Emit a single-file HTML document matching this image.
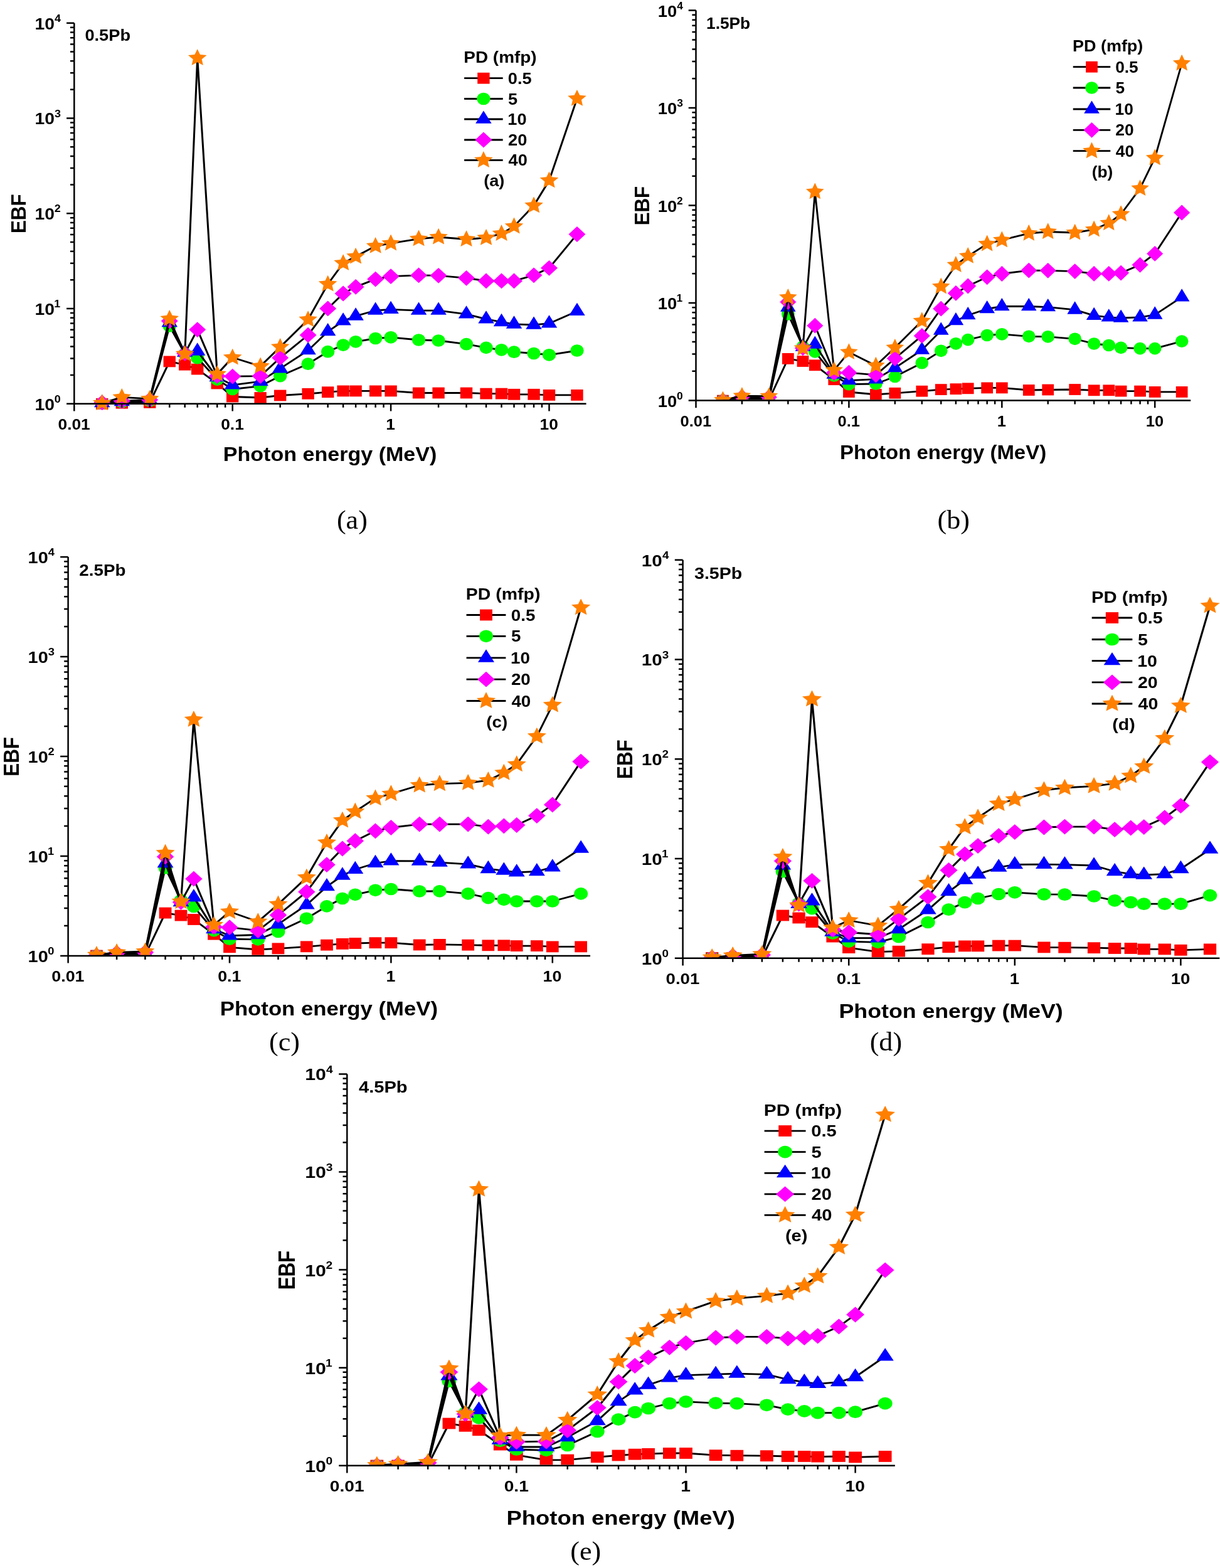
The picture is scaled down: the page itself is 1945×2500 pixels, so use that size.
<!DOCTYPE html>
<html><head><meta charset="utf-8"><title>EBF vs Photon energy</title>
<style>html,body{margin:0;padding:0;background:#fff;}svg{display:block;}</style></head>
<body><svg xmlns="http://www.w3.org/2000/svg" width="1945" height="2500" viewBox="0 0 1945 2500">
<rect width="1945" height="2500" fill="#fff"/>
<g id="chart-a">
<g>
<polyline transform="scale(1.0887,1)" points="149.49,643.8 178.46,642.7 219.28,641.9 248.25,576.4 270.72,581.7 289.08,588.6 318.04,611.5 340.51,632.5 381.34,634 410.3,630.5 451.13,627.8 480.09,625.2 502.56,623.4 520.92,623.4 549.89,623.4 572.35,623.4 613.18,626.5 642.15,626.5 682.97,626.5 711.94,627.6 734.41,627.6 752.76,628.8 781.73,628.8 804.2,629.9 845.02,629.9" fill="none" stroke="#000" stroke-width="2.8" stroke-linejoin="round"/>
<rect x="153.06" y="634.9" width="19.38" height="17.8" fill="#ff0000"/>
<rect x="184.59" y="633.8" width="19.38" height="17.8" fill="#ff0000"/>
<rect x="229.04" y="633" width="19.38" height="17.8" fill="#ff0000"/>
<rect x="260.57" y="567.5" width="19.38" height="17.8" fill="#ff0000"/>
<rect x="285.03" y="572.8" width="19.38" height="17.8" fill="#ff0000"/>
<rect x="305.02" y="579.7" width="19.38" height="17.8" fill="#ff0000"/>
<rect x="336.55" y="602.6" width="19.38" height="17.8" fill="#ff0000"/>
<rect x="361.01" y="623.6" width="19.38" height="17.8" fill="#ff0000"/>
<rect x="405.46" y="625.1" width="19.38" height="17.8" fill="#ff0000"/>
<rect x="436.99" y="621.6" width="19.38" height="17.8" fill="#ff0000"/>
<rect x="481.44" y="618.9" width="19.38" height="17.8" fill="#ff0000"/>
<rect x="512.97" y="616.3" width="19.38" height="17.8" fill="#ff0000"/>
<rect x="537.43" y="614.5" width="19.38" height="17.8" fill="#ff0000"/>
<rect x="557.42" y="614.5" width="19.38" height="17.8" fill="#ff0000"/>
<rect x="588.95" y="614.5" width="19.38" height="17.8" fill="#ff0000"/>
<rect x="613.41" y="614.5" width="19.38" height="17.8" fill="#ff0000"/>
<rect x="657.86" y="617.6" width="19.38" height="17.8" fill="#ff0000"/>
<rect x="689.39" y="617.6" width="19.38" height="17.8" fill="#ff0000"/>
<rect x="733.84" y="617.6" width="19.38" height="17.8" fill="#ff0000"/>
<rect x="765.37" y="618.7" width="19.38" height="17.8" fill="#ff0000"/>
<rect x="789.83" y="618.7" width="19.38" height="17.8" fill="#ff0000"/>
<rect x="809.82" y="619.9" width="19.38" height="17.8" fill="#ff0000"/>
<rect x="841.35" y="619.9" width="19.38" height="17.8" fill="#ff0000"/>
<rect x="865.81" y="621" width="19.38" height="17.8" fill="#ff0000"/>
<rect x="910.26" y="621" width="19.38" height="17.8" fill="#ff0000"/>
<polyline transform="scale(1.0887,1)" points="149.49,643 178.46,641 219.28,639 248.25,519.9 270.72,564 289.08,570.7 318.04,605.1 340.51,620.5 381.34,615.6 410.3,599.6 451.13,580.2 480.09,560.7 502.56,550.1 520.92,544.8 549.89,539.5 572.35,537.8 613.18,542 642.15,543 682.97,548.7 711.94,554.4 734.41,557.8 752.76,561.2 781.73,563.5 804.2,565.8 845.02,559" fill="none" stroke="#000" stroke-width="2.8" stroke-linejoin="round"/>
<ellipse cx="162.75" cy="643" rx="10.72" ry="9.85" fill="#00ff00"/>
<ellipse cx="194.28" cy="641" rx="10.72" ry="9.85" fill="#00ff00"/>
<ellipse cx="238.73" cy="639" rx="10.72" ry="9.85" fill="#00ff00"/>
<ellipse cx="270.26" cy="519.9" rx="10.72" ry="9.85" fill="#00ff00"/>
<ellipse cx="294.72" cy="564" rx="10.72" ry="9.85" fill="#00ff00"/>
<ellipse cx="314.71" cy="570.7" rx="10.72" ry="9.85" fill="#00ff00"/>
<ellipse cx="346.24" cy="605.1" rx="10.72" ry="9.85" fill="#00ff00"/>
<ellipse cx="370.7" cy="620.5" rx="10.72" ry="9.85" fill="#00ff00"/>
<ellipse cx="415.15" cy="615.6" rx="10.72" ry="9.85" fill="#00ff00"/>
<ellipse cx="446.68" cy="599.6" rx="10.72" ry="9.85" fill="#00ff00"/>
<ellipse cx="491.13" cy="580.2" rx="10.72" ry="9.85" fill="#00ff00"/>
<ellipse cx="522.66" cy="560.7" rx="10.72" ry="9.85" fill="#00ff00"/>
<ellipse cx="547.12" cy="550.1" rx="10.72" ry="9.85" fill="#00ff00"/>
<ellipse cx="567.11" cy="544.8" rx="10.72" ry="9.85" fill="#00ff00"/>
<ellipse cx="598.64" cy="539.5" rx="10.72" ry="9.85" fill="#00ff00"/>
<ellipse cx="623.1" cy="537.8" rx="10.72" ry="9.85" fill="#00ff00"/>
<ellipse cx="667.55" cy="542" rx="10.72" ry="9.85" fill="#00ff00"/>
<ellipse cx="699.08" cy="543" rx="10.72" ry="9.85" fill="#00ff00"/>
<ellipse cx="743.53" cy="548.7" rx="10.72" ry="9.85" fill="#00ff00"/>
<ellipse cx="775.06" cy="554.4" rx="10.72" ry="9.85" fill="#00ff00"/>
<ellipse cx="799.52" cy="557.8" rx="10.72" ry="9.85" fill="#00ff00"/>
<ellipse cx="819.51" cy="561.2" rx="10.72" ry="9.85" fill="#00ff00"/>
<ellipse cx="851.04" cy="563.5" rx="10.72" ry="9.85" fill="#00ff00"/>
<ellipse cx="875.5" cy="565.8" rx="10.72" ry="9.85" fill="#00ff00"/>
<ellipse cx="919.95" cy="559" rx="10.72" ry="9.85" fill="#00ff00"/>
<polyline transform="scale(1.0887,1)" points="149.49,642.6 178.46,640.4 219.28,637.5 248.25,514.4 270.72,561.9 289.08,559.9 318.04,601.6 340.51,613.8 381.34,608.2 410.3,587.7 451.13,558.6 480.09,528.6 502.56,511.8 520.92,503.9 549.89,495 572.35,493.3 613.18,495.1 642.15,495.1 682.97,500.8 711.94,508.8 734.41,513.4 752.76,516.9 781.73,518 804.2,515.7 845.02,496.3" fill="none" stroke="#000" stroke-width="2.8" stroke-linejoin="round"/>
<polygon points="162.75,629.07 175.48,649.37 150.01,649.37" fill="#0000ff"/>
<polygon points="194.28,626.87 207.02,647.17 181.54,647.17" fill="#0000ff"/>
<polygon points="238.73,623.97 251.46,644.27 225.99,644.27" fill="#0000ff"/>
<polygon points="270.26,500.87 283,521.17 257.52,521.17" fill="#0000ff"/>
<polygon points="294.72,548.37 307.46,568.67 281.98,568.67" fill="#0000ff"/>
<polygon points="314.71,546.37 327.44,566.67 301.97,566.67" fill="#0000ff"/>
<polygon points="346.24,588.07 358.98,608.37 333.5,608.37" fill="#0000ff"/>
<polygon points="370.7,600.27 383.44,620.57 357.96,620.57" fill="#0000ff"/>
<polygon points="415.15,594.67 427.88,614.97 402.41,614.97" fill="#0000ff"/>
<polygon points="446.68,574.17 459.42,594.47 433.94,594.47" fill="#0000ff"/>
<polygon points="491.13,545.07 503.86,565.37 478.39,565.37" fill="#0000ff"/>
<polygon points="522.66,515.07 535.4,535.37 509.92,535.37" fill="#0000ff"/>
<polygon points="547.12,498.27 559.86,518.57 534.38,518.57" fill="#0000ff"/>
<polygon points="567.11,490.37 579.84,510.67 554.37,510.67" fill="#0000ff"/>
<polygon points="598.64,481.47 611.38,501.77 585.9,501.77" fill="#0000ff"/>
<polygon points="623.1,479.77 635.84,500.07 610.36,500.07" fill="#0000ff"/>
<polygon points="667.55,481.57 680.28,501.87 654.81,501.87" fill="#0000ff"/>
<polygon points="699.08,481.57 711.82,501.87 686.34,501.87" fill="#0000ff"/>
<polygon points="743.53,487.27 756.26,507.57 730.79,507.57" fill="#0000ff"/>
<polygon points="775.06,495.27 787.8,515.57 762.32,515.57" fill="#0000ff"/>
<polygon points="799.52,499.87 812.26,520.17 786.78,520.17" fill="#0000ff"/>
<polygon points="819.51,503.37 832.24,523.67 806.77,523.67" fill="#0000ff"/>
<polygon points="851.04,504.47 863.78,524.77 838.3,524.77" fill="#0000ff"/>
<polygon points="875.5,502.17 888.24,522.47 862.76,522.47" fill="#0000ff"/>
<polygon points="919.95,482.77 932.68,503.07 907.21,503.07" fill="#0000ff"/>
<polyline transform="scale(1.0887,1)" points="149.49,641.9 178.46,639.3 219.28,637.5 248.25,511.8 270.72,563.4 289.08,525.6 318.04,599.6 340.51,600.1 381.34,599.6 410.3,570.4 451.13,534.2 480.09,491.9 502.56,468 520.92,457.4 549.89,445.1 572.35,440.7 613.18,438.9 642.15,439.3 682.97,443.3 711.94,447.9 734.41,447.9 752.76,447.9 781.73,438.8 804.2,427.3 845.02,373.5" fill="none" stroke="#000" stroke-width="2.8" stroke-linejoin="round"/>
<polygon points="162.75,629.5 176.24,641.9 162.75,654.3 149.25,641.9" fill="#ff00ff"/>
<polygon points="194.28,626.9 207.78,639.3 194.28,651.7 180.78,639.3" fill="#ff00ff"/>
<polygon points="238.73,625.1 252.22,637.5 238.73,649.9 225.23,637.5" fill="#ff00ff"/>
<polygon points="270.26,499.4 283.76,511.8 270.26,524.2 256.76,511.8" fill="#ff00ff"/>
<polygon points="294.72,551 308.22,563.4 294.72,575.8 281.22,563.4" fill="#ff00ff"/>
<polygon points="314.71,513.2 328.2,525.6 314.71,538 301.21,525.6" fill="#ff00ff"/>
<polygon points="346.24,587.2 359.74,599.6 346.24,612 332.74,599.6" fill="#ff00ff"/>
<polygon points="370.7,587.7 384.2,600.1 370.7,612.5 357.2,600.1" fill="#ff00ff"/>
<polygon points="415.15,587.2 428.64,599.6 415.15,612 401.65,599.6" fill="#ff00ff"/>
<polygon points="446.68,558 460.18,570.4 446.68,582.8 433.18,570.4" fill="#ff00ff"/>
<polygon points="491.13,521.8 504.62,534.2 491.13,546.6 477.63,534.2" fill="#ff00ff"/>
<polygon points="522.66,479.5 536.16,491.9 522.66,504.3 509.16,491.9" fill="#ff00ff"/>
<polygon points="547.12,455.6 560.62,468 547.12,480.4 533.62,468" fill="#ff00ff"/>
<polygon points="567.11,445 580.6,457.4 567.11,469.8 553.61,457.4" fill="#ff00ff"/>
<polygon points="598.64,432.7 612.14,445.1 598.64,457.5 585.14,445.1" fill="#ff00ff"/>
<polygon points="623.1,428.3 636.6,440.7 623.1,453.1 609.6,440.7" fill="#ff00ff"/>
<polygon points="667.55,426.5 681.04,438.9 667.55,451.3 654.05,438.9" fill="#ff00ff"/>
<polygon points="699.08,426.9 712.58,439.3 699.08,451.7 685.58,439.3" fill="#ff00ff"/>
<polygon points="743.53,430.9 757.02,443.3 743.53,455.7 730.03,443.3" fill="#ff00ff"/>
<polygon points="775.06,435.5 788.56,447.9 775.06,460.3 761.56,447.9" fill="#ff00ff"/>
<polygon points="799.52,435.5 813.02,447.9 799.52,460.3 786.02,447.9" fill="#ff00ff"/>
<polygon points="819.51,435.5 833,447.9 819.51,460.3 806.01,447.9" fill="#ff00ff"/>
<polygon points="851.04,426.4 864.54,438.8 851.04,451.2 837.54,438.8" fill="#ff00ff"/>
<polygon points="875.5,414.9 889,427.3 875.5,439.7 862,427.3" fill="#ff00ff"/>
<polygon points="919.95,361.1 933.44,373.5 919.95,385.9 906.45,373.5" fill="#ff00ff"/>
<polyline transform="scale(1.0887,1)" points="149.49,642.6 178.46,633.3 219.28,635.9 248.25,508.3 270.72,564.3 289.08,92.5 318.04,596.5 340.51,570 381.34,583.8 410.3,553.2 451.13,509.5 480.09,453 502.56,419.5 520.92,409 549.89,392.3 572.35,387.9 613.18,380.8 642.15,378 682.97,381.5 711.94,379.2 734.41,372.4 752.76,360.9 781.73,327.7 804.2,287.7 845.02,157.2" fill="none" stroke="#000" stroke-width="2.8" stroke-linejoin="round"/>
<polygon points="162.75,628.3 167.05,637.16 177.55,638.18 169.7,644.68 171.9,654.17 162.75,649.32 153.59,654.17 155.79,644.68 147.94,638.18 158.44,637.16" fill="#ff8000"/>
<polygon points="194.28,619 198.58,627.86 209.09,628.88 201.24,635.38 203.43,644.87 194.28,640.02 185.13,644.87 187.32,635.38 179.47,628.88 189.98,627.86" fill="#ff8000"/>
<polygon points="238.73,621.6 243.03,630.46 253.53,631.48 245.68,637.98 247.88,647.47 238.73,642.62 229.57,647.47 231.77,637.98 223.92,631.48 234.42,630.46" fill="#ff8000"/>
<polygon points="270.26,494 274.56,502.86 285.07,503.88 277.22,510.38 279.41,519.87 270.26,515.02 261.11,519.87 263.3,510.38 255.45,503.88 265.96,502.86" fill="#ff8000"/>
<polygon points="294.72,550 299.02,558.86 309.53,559.88 301.68,566.38 303.87,575.87 294.72,571.02 285.57,575.87 287.76,566.38 279.91,559.88 290.42,558.86" fill="#ff8000"/>
<polygon points="314.71,78.2 319.01,87.06 329.51,88.08 321.66,94.58 323.86,104.07 314.71,99.22 305.55,104.07 307.75,94.58 299.9,88.08 310.4,87.06" fill="#ff8000"/>
<polygon points="346.24,582.2 350.54,591.06 361.05,592.08 353.2,598.58 355.39,608.07 346.24,603.22 337.09,608.07 339.28,598.58 331.43,592.08 341.94,591.06" fill="#ff8000"/>
<polygon points="370.7,555.7 375,564.56 385.51,565.58 377.66,572.08 379.85,581.57 370.7,576.72 361.55,581.57 363.74,572.08 355.89,565.58 366.4,564.56" fill="#ff8000"/>
<polygon points="415.15,569.5 419.45,578.36 429.95,579.38 422.1,585.88 424.3,595.37 415.15,590.52 405.99,595.37 408.19,585.88 400.34,579.38 410.84,578.36" fill="#ff8000"/>
<polygon points="446.68,538.9 450.98,547.76 461.49,548.78 453.64,555.28 455.83,564.77 446.68,559.92 437.53,564.77 439.72,555.28 431.87,548.78 442.38,547.76" fill="#ff8000"/>
<polygon points="491.13,495.2 495.43,504.06 505.93,505.08 498.08,511.58 500.28,521.07 491.13,516.22 481.97,521.07 484.17,511.58 476.32,505.08 486.82,504.06" fill="#ff8000"/>
<polygon points="522.66,438.7 526.96,447.56 537.47,448.58 529.62,455.08 531.81,464.57 522.66,459.72 513.51,464.57 515.7,455.08 507.85,448.58 518.36,447.56" fill="#ff8000"/>
<polygon points="547.12,405.2 551.42,414.06 561.93,415.08 554.08,421.58 556.27,431.07 547.12,426.22 537.97,431.07 540.16,421.58 532.31,415.08 542.82,414.06" fill="#ff8000"/>
<polygon points="567.11,394.7 571.41,403.56 581.91,404.58 574.06,411.08 576.26,420.57 567.11,415.72 557.95,420.57 560.15,411.08 552.3,404.58 562.8,403.56" fill="#ff8000"/>
<polygon points="598.64,378 602.94,386.86 613.45,387.88 605.6,394.38 607.79,403.87 598.64,399.02 589.49,403.87 591.68,394.38 583.83,387.88 594.34,386.86" fill="#ff8000"/>
<polygon points="623.1,373.6 627.4,382.46 637.91,383.48 630.06,389.98 632.25,399.47 623.1,394.62 613.95,399.47 616.14,389.98 608.29,383.48 618.8,382.46" fill="#ff8000"/>
<polygon points="667.55,366.5 671.85,375.36 682.35,376.38 674.5,382.88 676.7,392.37 667.55,387.52 658.39,392.37 660.59,382.88 652.74,376.38 663.24,375.36" fill="#ff8000"/>
<polygon points="699.08,363.7 703.38,372.56 713.89,373.58 706.04,380.08 708.23,389.57 699.08,384.72 689.93,389.57 692.12,380.08 684.27,373.58 694.78,372.56" fill="#ff8000"/>
<polygon points="743.53,367.2 747.83,376.06 758.33,377.08 750.48,383.58 752.68,393.07 743.53,388.22 734.37,393.07 736.57,383.58 728.72,377.08 739.22,376.06" fill="#ff8000"/>
<polygon points="775.06,364.9 779.36,373.76 789.87,374.78 782.02,381.28 784.21,390.77 775.06,385.92 765.91,390.77 768.1,381.28 760.25,374.78 770.76,373.76" fill="#ff8000"/>
<polygon points="799.52,358.1 803.82,366.96 814.33,367.98 806.48,374.48 808.67,383.97 799.52,379.12 790.37,383.97 792.56,374.48 784.71,367.98 795.22,366.96" fill="#ff8000"/>
<polygon points="819.51,346.6 823.81,355.46 834.31,356.48 826.46,362.98 828.66,372.47 819.51,367.62 810.35,372.47 812.55,362.98 804.7,356.48 815.2,355.46" fill="#ff8000"/>
<polygon points="851.04,313.4 855.34,322.26 865.85,323.28 858,329.78 860.19,339.27 851.04,334.42 841.89,339.27 844.08,329.78 836.23,323.28 846.74,322.26" fill="#ff8000"/>
<polygon points="875.5,273.4 879.8,282.26 890.31,283.28 882.46,289.78 884.65,299.27 875.5,294.42 866.35,299.27 868.54,289.78 860.69,283.28 871.2,282.26" fill="#ff8000"/>
<polygon points="919.95,142.9 924.25,151.76 934.75,152.78 926.9,159.28 929.1,168.77 919.95,163.92 910.79,168.77 912.99,159.28 905.14,152.78 915.64,151.76" fill="#ff8000"/>
</g>
<path d="M118.3,36.8V643.8M106.09,643.8H934.56M106.09,643.8H118.3M111.99,598.12H118.3M111.99,571.4H118.3M111.99,552.44H118.3M111.99,537.73H118.3M111.99,525.72H118.3M111.99,515.56H118.3M111.99,506.76H118.3M111.99,498.99H118.3M106.09,492.05H118.3M111.99,446.37H118.3M111.99,419.65H118.3M111.99,400.69H118.3M111.99,385.98H118.3M111.99,373.97H118.3M111.99,363.81H118.3M111.99,355.01H118.3M111.99,347.24H118.3M106.09,340.3H118.3M111.99,294.62H118.3M111.99,267.9H118.3M111.99,248.94H118.3M111.99,234.23H118.3M111.99,222.22H118.3M111.99,212.06H118.3M111.99,203.26H118.3M111.99,195.49H118.3M106.09,188.55H118.3M111.99,142.87H118.3M111.99,116.15H118.3M111.99,97.19H118.3M111.99,82.48H118.3M111.99,70.47H118.3M111.99,60.31H118.3M111.99,51.51H118.3M111.99,43.74H118.3M106.09,36.8H118.3M118.3,643.8V655.5M194.28,643.8V649.8M238.73,643.8V649.8M270.26,643.8V649.8M294.72,643.8V649.8M314.71,643.8V649.8M331.6,643.8V649.8M346.24,643.8V649.8M359.15,643.8V649.8M370.7,643.8V655.5M446.68,643.8V649.8M491.13,643.8V649.8M522.66,643.8V649.8M547.12,643.8V649.8M567.11,643.8V649.8M584,643.8V649.8M598.64,643.8V649.8M611.55,643.8V649.8M623.1,643.8V655.5M699.08,643.8V649.8M743.53,643.8V649.8M775.06,643.8V649.8M799.52,643.8V649.8M819.51,643.8V649.8M836.4,643.8V649.8M851.04,643.8V649.8M863.95,643.8V649.8M875.5,643.8V655.5" stroke="#000" stroke-width="2.5" fill="none"/>
<text transform="translate(55.55,653.7) scale(1.0887,1)" font-family='"Liberation Sans", Arial, sans-serif' font-weight="bold" font-size="26">10</text>
<text transform="translate(86.66,641.9) scale(1.0887,1)" font-family='"Liberation Sans", Arial, sans-serif' font-weight="bold" font-size="16.5">0</text>
<text transform="translate(55.55,501.95) scale(1.0887,1)" font-family='"Liberation Sans", Arial, sans-serif' font-weight="bold" font-size="26">10</text>
<text transform="translate(86.25,490.15) scale(1.0887,1)" font-family='"Liberation Sans", Arial, sans-serif' font-weight="bold" font-size="16.5">1</text>
<text transform="translate(55.55,350.2) scale(1.0887,1)" font-family='"Liberation Sans", Arial, sans-serif' font-weight="bold" font-size="26">10</text>
<text transform="translate(86.75,338.4) scale(1.0887,1)" font-family='"Liberation Sans", Arial, sans-serif' font-weight="bold" font-size="16.5">2</text>
<text transform="translate(55.55,198.45) scale(1.0887,1)" font-family='"Liberation Sans", Arial, sans-serif' font-weight="bold" font-size="26">10</text>
<text transform="translate(86.97,186.65) scale(1.0887,1)" font-family='"Liberation Sans", Arial, sans-serif' font-weight="bold" font-size="16.5">3</text>
<text transform="translate(55.55,46.7) scale(1.0887,1)" font-family='"Liberation Sans", Arial, sans-serif' font-weight="bold" font-size="26">10</text>
<text transform="translate(87.11,34.9) scale(1.0887,1)" font-family='"Liberation Sans", Arial, sans-serif' font-weight="bold" font-size="16.5">4</text>
<text transform="translate(92.51,684.8) scale(1.0887,1)" font-family='"Liberation Sans", Arial, sans-serif' font-weight="bold" font-size="24.2">0.01</text>
<text transform="translate(352.23,684.8) scale(1.0887,1)" font-family='"Liberation Sans", Arial, sans-serif' font-weight="bold" font-size="24.2">0.1</text>
<text transform="translate(615.31,684.8) scale(1.0887,1)" font-family='"Liberation Sans", Arial, sans-serif' font-weight="bold" font-size="24.2">1</text>
<text transform="translate(860.56,684.8) scale(1.0887,1)" font-family='"Liberation Sans", Arial, sans-serif' font-weight="bold" font-size="24.2">10</text>
<text transform="translate(355.75,735) scale(1.0887,1)" font-family='"Liberation Sans", Arial, sans-serif' font-weight="bold" font-size="31.3">Photon energy (MeV)</text>
<text transform="translate(41,372.07) scale(1.0887,1) rotate(-90)" font-family='"Liberation Sans", Arial, sans-serif' font-weight="bold" font-size="31.3">EBF</text>
<text transform="translate(135.41,65) scale(1.0887,1)" font-family='"Liberation Sans", Arial, sans-serif' font-weight="bold" font-size="25">0.5Pb</text>
<text transform="translate(739.31,100.2) scale(1.0887,1)" font-family='"Liberation Sans", Arial, sans-serif' font-weight="bold" font-size="25.65">PD (mfp)</text>
<path d="M740.09,124.7H801.71" stroke="#000" stroke-width="2.8"/>
<rect x="761.21" y="115.8" width="19.38" height="17.8" fill="#ff0000"/>
<text transform="translate(809.87,133.7) scale(1.0887,1)" font-family='"Liberation Sans", Arial, sans-serif' font-weight="bold" font-size="25">0.5</text>
<path d="M740.09,157.5H801.71" stroke="#000" stroke-width="2.8"/>
<ellipse cx="770.9" cy="157.5" rx="10.72" ry="9.85" fill="#00ff00"/>
<text transform="translate(810.12,166.5) scale(1.0887,1)" font-family='"Liberation Sans", Arial, sans-serif' font-weight="bold" font-size="25">5</text>
<path d="M740.09,190H801.71" stroke="#000" stroke-width="2.8"/>
<polygon points="770.9,176.47 783.64,196.77 758.16,196.77" fill="#0000ff"/>
<text transform="translate(809.25,199) scale(1.0887,1)" font-family='"Liberation Sans", Arial, sans-serif' font-weight="bold" font-size="25">10</text>
<path d="M740.09,223H801.71" stroke="#000" stroke-width="2.8"/>
<polygon points="770.9,210.6 784.4,223 770.9,235.4 757.4,223" fill="#ff00ff"/>
<text transform="translate(810.01,232) scale(1.0887,1)" font-family='"Liberation Sans", Arial, sans-serif' font-weight="bold" font-size="25">20</text>
<path d="M740.09,255.4H801.71" stroke="#000" stroke-width="2.8"/>
<polygon points="770.9,241.1 775.2,249.96 785.71,250.98 777.86,257.48 780.05,266.97 770.9,262.12 761.75,266.97 763.94,257.48 756.09,250.98 766.6,249.96" fill="#ff8000"/>
<text transform="translate(810.55,264.4) scale(1.0887,1)" font-family='"Liberation Sans", Arial, sans-serif' font-weight="bold" font-size="25">40</text>
<text transform="translate(771.17,297.4) scale(1.0887,1)" font-family='"Liberation Sans", Arial, sans-serif' font-weight="bold" font-size="25">(a)</text>
<text transform="translate(536.92,842.5) scale(1.0500,1)" font-family='"Liberation Serif", serif' font-weight="normal" font-size="42">(a)</text>
</g>
<g id="chart-b">
<clipPath id="clip-b"><rect x="1109.5" y="0" width="828.77" height="637.35"/></clipPath>
<g clip-path="url(#clip-b)">
<polyline transform="scale(1.0520,1)" points="1095.48,638.6 1124.45,637.6 1165.28,637.7 1194.24,571.9 1216.71,576 1235.07,582.3 1264.03,605.2 1286.5,625 1327.33,629 1356.29,626.8 1397.12,623.7 1426.09,621.1 1448.55,620.2 1466.91,619.3 1495.88,618.4 1518.35,618.4 1559.17,622 1588.14,621.5 1628.96,621 1657.93,622.3 1680.4,622.3 1698.76,623.6 1727.72,623.6 1750.19,624.9 1791.02,624.9" fill="none" stroke="#000" stroke-width="2.8" stroke-linejoin="round"/>
<rect x="1143.09" y="629.7" width="18.73" height="17.8" fill="#ff0000"/>
<rect x="1173.56" y="628.7" width="18.73" height="17.8" fill="#ff0000"/>
<rect x="1216.51" y="628.8" width="18.73" height="17.8" fill="#ff0000"/>
<rect x="1246.98" y="563" width="18.73" height="17.8" fill="#ff0000"/>
<rect x="1270.62" y="567.1" width="18.73" height="17.8" fill="#ff0000"/>
<rect x="1289.93" y="573.4" width="18.73" height="17.8" fill="#ff0000"/>
<rect x="1320.4" y="596.3" width="18.73" height="17.8" fill="#ff0000"/>
<rect x="1344.04" y="616.1" width="18.73" height="17.8" fill="#ff0000"/>
<rect x="1386.99" y="620.1" width="18.73" height="17.8" fill="#ff0000"/>
<rect x="1417.46" y="617.9" width="18.73" height="17.8" fill="#ff0000"/>
<rect x="1460.41" y="614.8" width="18.73" height="17.8" fill="#ff0000"/>
<rect x="1490.88" y="612.2" width="18.73" height="17.8" fill="#ff0000"/>
<rect x="1514.52" y="611.3" width="18.73" height="17.8" fill="#ff0000"/>
<rect x="1533.83" y="610.4" width="18.73" height="17.8" fill="#ff0000"/>
<rect x="1564.3" y="609.5" width="18.73" height="17.8" fill="#ff0000"/>
<rect x="1587.94" y="609.5" width="18.73" height="17.8" fill="#ff0000"/>
<rect x="1630.89" y="613.1" width="18.73" height="17.8" fill="#ff0000"/>
<rect x="1661.36" y="612.6" width="18.73" height="17.8" fill="#ff0000"/>
<rect x="1704.31" y="612.1" width="18.73" height="17.8" fill="#ff0000"/>
<rect x="1734.78" y="613.4" width="18.73" height="17.8" fill="#ff0000"/>
<rect x="1758.42" y="613.4" width="18.73" height="17.8" fill="#ff0000"/>
<rect x="1777.73" y="614.7" width="18.73" height="17.8" fill="#ff0000"/>
<rect x="1808.2" y="614.7" width="18.73" height="17.8" fill="#ff0000"/>
<rect x="1831.84" y="616" width="18.73" height="17.8" fill="#ff0000"/>
<rect x="1874.79" y="616" width="18.73" height="17.8" fill="#ff0000"/>
<polyline transform="scale(1.0520,1)" points="1095.48,638.6 1124.45,636 1165.28,636.2 1194.24,500.8 1216.71,552.7 1235.07,560.9 1264.03,599 1286.5,612.7 1327.33,612 1356.29,600.5 1397.12,578.7 1426.09,559.3 1448.55,547.8 1466.91,541.6 1495.88,534.5 1518.35,532.8 1559.17,536.3 1588.14,536.8 1628.96,540.3 1657.93,548 1680.4,550.5 1698.76,554.4 1727.72,555.6 1750.19,555.6 1791.02,544.1" fill="none" stroke="#000" stroke-width="2.8" stroke-linejoin="round"/>
<ellipse cx="1152.45" cy="638.6" rx="10.36" ry="9.85" fill="#00ff00"/>
<ellipse cx="1182.92" cy="636" rx="10.36" ry="9.85" fill="#00ff00"/>
<ellipse cx="1225.87" cy="636.2" rx="10.36" ry="9.85" fill="#00ff00"/>
<ellipse cx="1256.34" cy="500.8" rx="10.36" ry="9.85" fill="#00ff00"/>
<ellipse cx="1279.98" cy="552.7" rx="10.36" ry="9.85" fill="#00ff00"/>
<ellipse cx="1299.29" cy="560.9" rx="10.36" ry="9.85" fill="#00ff00"/>
<ellipse cx="1329.76" cy="599" rx="10.36" ry="9.85" fill="#00ff00"/>
<ellipse cx="1353.4" cy="612.7" rx="10.36" ry="9.85" fill="#00ff00"/>
<ellipse cx="1396.35" cy="612" rx="10.36" ry="9.85" fill="#00ff00"/>
<ellipse cx="1426.82" cy="600.5" rx="10.36" ry="9.85" fill="#00ff00"/>
<ellipse cx="1469.77" cy="578.7" rx="10.36" ry="9.85" fill="#00ff00"/>
<ellipse cx="1500.24" cy="559.3" rx="10.36" ry="9.85" fill="#00ff00"/>
<ellipse cx="1523.88" cy="547.8" rx="10.36" ry="9.85" fill="#00ff00"/>
<ellipse cx="1543.19" cy="541.6" rx="10.36" ry="9.85" fill="#00ff00"/>
<ellipse cx="1573.66" cy="534.5" rx="10.36" ry="9.85" fill="#00ff00"/>
<ellipse cx="1597.3" cy="532.8" rx="10.36" ry="9.85" fill="#00ff00"/>
<ellipse cx="1640.25" cy="536.3" rx="10.36" ry="9.85" fill="#00ff00"/>
<ellipse cx="1670.72" cy="536.8" rx="10.36" ry="9.85" fill="#00ff00"/>
<ellipse cx="1713.67" cy="540.3" rx="10.36" ry="9.85" fill="#00ff00"/>
<ellipse cx="1744.14" cy="548" rx="10.36" ry="9.85" fill="#00ff00"/>
<ellipse cx="1767.78" cy="550.5" rx="10.36" ry="9.85" fill="#00ff00"/>
<ellipse cx="1787.09" cy="554.4" rx="10.36" ry="9.85" fill="#00ff00"/>
<ellipse cx="1817.56" cy="555.6" rx="10.36" ry="9.85" fill="#00ff00"/>
<ellipse cx="1841.2" cy="555.6" rx="10.36" ry="9.85" fill="#00ff00"/>
<ellipse cx="1884.15" cy="544.1" rx="10.36" ry="9.85" fill="#00ff00"/>
<polyline transform="scale(1.0520,1)" points="1095.48,638.6 1124.45,634.4 1165.28,634.7 1194.24,490.1 1216.71,552.9 1235.07,549 1264.03,597 1286.5,606.6 1327.33,604.7 1356.29,586.6 1397.12,558 1426.09,527.1 1448.55,511.5 1466.91,502.6 1495.88,492.5 1518.35,488.5 1559.17,488.5 1588.14,489.6 1628.96,493.9 1657.93,503.2 1680.4,505.8 1698.76,507 1727.72,505.8 1750.19,501.9 1791.02,473.7" fill="none" stroke="#000" stroke-width="2.8" stroke-linejoin="round"/>
<polygon points="1152.45,625.07 1164.76,645.37 1140.14,645.37" fill="#0000ff"/>
<polygon points="1182.92,620.87 1195.23,641.17 1170.61,641.17" fill="#0000ff"/>
<polygon points="1225.87,621.17 1238.18,641.47 1213.56,641.47" fill="#0000ff"/>
<polygon points="1256.34,476.57 1268.65,496.87 1244.03,496.87" fill="#0000ff"/>
<polygon points="1279.98,539.37 1292.29,559.67 1267.67,559.67" fill="#0000ff"/>
<polygon points="1299.29,535.47 1311.6,555.77 1286.98,555.77" fill="#0000ff"/>
<polygon points="1329.76,583.47 1342.07,603.77 1317.46,603.77" fill="#0000ff"/>
<polygon points="1353.4,593.07 1365.71,613.37 1341.09,613.37" fill="#0000ff"/>
<polygon points="1396.35,591.17 1408.66,611.47 1384.04,611.47" fill="#0000ff"/>
<polygon points="1426.82,573.07 1439.13,593.37 1414.51,593.37" fill="#0000ff"/>
<polygon points="1469.77,544.47 1482.08,564.77 1457.46,564.77" fill="#0000ff"/>
<polygon points="1500.24,513.57 1512.55,533.87 1487.93,533.87" fill="#0000ff"/>
<polygon points="1523.88,497.97 1536.19,518.27 1511.57,518.27" fill="#0000ff"/>
<polygon points="1543.19,489.07 1555.5,509.37 1530.88,509.37" fill="#0000ff"/>
<polygon points="1573.66,478.97 1585.97,499.27 1561.36,499.27" fill="#0000ff"/>
<polygon points="1597.3,474.97 1609.61,495.27 1584.99,495.27" fill="#0000ff"/>
<polygon points="1640.25,474.97 1652.56,495.27 1627.94,495.27" fill="#0000ff"/>
<polygon points="1670.72,476.07 1683.03,496.37 1658.41,496.37" fill="#0000ff"/>
<polygon points="1713.67,480.37 1725.98,500.67 1701.36,500.67" fill="#0000ff"/>
<polygon points="1744.14,489.67 1756.45,509.97 1731.83,509.97" fill="#0000ff"/>
<polygon points="1767.78,492.27 1780.09,512.57 1755.47,512.57" fill="#0000ff"/>
<polygon points="1787.09,493.47 1799.4,513.77 1774.78,513.77" fill="#0000ff"/>
<polygon points="1817.56,492.27 1829.87,512.57 1805.26,512.57" fill="#0000ff"/>
<polygon points="1841.2,488.37 1853.51,508.67 1828.89,508.67" fill="#0000ff"/>
<polygon points="1884.15,460.17 1896.46,480.47 1871.84,480.47" fill="#0000ff"/>
<polyline transform="scale(1.0520,1)" points="1095.48,638.6 1124.45,632.8 1165.28,633.2 1194.24,481.6 1216.71,554.9 1235.07,519.2 1264.03,594.5 1286.5,594.2 1327.33,597.9 1356.29,571.5 1397.12,535.4 1426.09,492.2 1448.55,467.4 1466.91,456 1495.88,441.8 1518.35,436.5 1559.17,431.2 1588.14,431.3 1628.96,432.6 1657.93,436.4 1680.4,436.4 1698.76,435.1 1727.72,422.3 1750.19,404.4 1791.02,339" fill="none" stroke="#000" stroke-width="2.8" stroke-linejoin="round"/>
<polygon points="1152.45,626.2 1165.49,638.6 1152.45,651 1139.4,638.6" fill="#ff00ff"/>
<polygon points="1182.92,620.4 1195.97,632.8 1182.92,645.2 1169.88,632.8" fill="#ff00ff"/>
<polygon points="1225.87,620.8 1238.91,633.2 1225.87,645.6 1212.83,633.2" fill="#ff00ff"/>
<polygon points="1256.34,469.2 1269.39,481.6 1256.34,494 1243.3,481.6" fill="#ff00ff"/>
<polygon points="1279.98,542.5 1293.02,554.9 1279.98,567.3 1266.93,554.9" fill="#ff00ff"/>
<polygon points="1299.29,506.8 1312.34,519.2 1299.29,531.6 1286.25,519.2" fill="#ff00ff"/>
<polygon points="1329.76,582.1 1342.81,594.5 1329.76,606.9 1316.72,594.5" fill="#ff00ff"/>
<polygon points="1353.4,581.8 1366.44,594.2 1353.4,606.6 1340.36,594.2" fill="#ff00ff"/>
<polygon points="1396.35,585.5 1409.39,597.9 1396.35,610.3 1383.3,597.9" fill="#ff00ff"/>
<polygon points="1426.82,559.1 1439.87,571.5 1426.82,583.9 1413.78,571.5" fill="#ff00ff"/>
<polygon points="1469.77,523 1482.81,535.4 1469.77,547.8 1456.73,535.4" fill="#ff00ff"/>
<polygon points="1500.24,479.8 1513.29,492.2 1500.24,504.6 1487.2,492.2" fill="#ff00ff"/>
<polygon points="1523.88,455 1536.92,467.4 1523.88,479.8 1510.83,467.4" fill="#ff00ff"/>
<polygon points="1543.19,443.6 1556.24,456 1543.19,468.4 1530.15,456" fill="#ff00ff"/>
<polygon points="1573.66,429.4 1586.71,441.8 1573.66,454.2 1560.62,441.8" fill="#ff00ff"/>
<polygon points="1597.3,424.1 1610.34,436.5 1597.3,448.9 1584.26,436.5" fill="#ff00ff"/>
<polygon points="1640.25,418.8 1653.29,431.2 1640.25,443.6 1627.2,431.2" fill="#ff00ff"/>
<polygon points="1670.72,418.9 1683.77,431.3 1670.72,443.7 1657.68,431.3" fill="#ff00ff"/>
<polygon points="1713.67,420.2 1726.71,432.6 1713.67,445 1700.63,432.6" fill="#ff00ff"/>
<polygon points="1744.14,424 1757.19,436.4 1744.14,448.8 1731.1,436.4" fill="#ff00ff"/>
<polygon points="1767.78,424 1780.82,436.4 1767.78,448.8 1754.73,436.4" fill="#ff00ff"/>
<polygon points="1787.09,422.7 1800.14,435.1 1787.09,447.5 1774.05,435.1" fill="#ff00ff"/>
<polygon points="1817.56,409.9 1830.61,422.3 1817.56,434.7 1804.52,422.3" fill="#ff00ff"/>
<polygon points="1841.2,392 1854.24,404.4 1841.2,416.8 1828.16,404.4" fill="#ff00ff"/>
<polygon points="1884.15,326.6 1897.19,339 1884.15,351.4 1871.1,339" fill="#ff00ff"/>
<polyline transform="scale(1.0520,1)" points="1095.48,637.8 1124.45,631.2 1165.28,631.7 1194.24,474.2 1216.71,555.2 1235.07,305.8 1264.03,590.2 1286.5,561.5 1327.33,583 1356.29,554.3 1397.12,511.6 1426.09,456.9 1448.55,422.4 1466.91,408.3 1495.88,388.9 1518.35,382.7 1559.17,372.1 1588.14,369.5 1628.96,371 1657.93,365.9 1680.4,355.6 1698.76,341.5 1727.72,300.5 1750.19,251.8 1791.02,101" fill="none" stroke="#000" stroke-width="2.8" stroke-linejoin="round"/>
<polygon points="1152.45,623.5 1156.6,632.36 1166.76,633.38 1159.17,639.88 1161.29,649.37 1152.45,644.52 1143.61,649.37 1145.72,639.88 1138.14,633.38 1148.29,632.36" fill="#ff8000"/>
<polygon points="1182.92,616.9 1187.08,625.76 1197.23,626.78 1189.65,633.28 1191.76,642.77 1182.92,637.92 1174.08,642.77 1176.2,633.28 1168.61,626.78 1178.77,625.76" fill="#ff8000"/>
<polygon points="1225.87,617.4 1230.03,626.26 1240.18,627.28 1232.59,633.78 1234.71,643.27 1225.87,638.42 1217.03,643.27 1219.15,633.78 1211.56,627.28 1221.71,626.26" fill="#ff8000"/>
<polygon points="1256.34,459.9 1260.5,468.76 1270.65,469.78 1263.07,476.28 1265.18,485.77 1256.34,480.92 1247.5,485.77 1249.62,476.28 1242.04,469.78 1252.19,468.76" fill="#ff8000"/>
<polygon points="1279.98,540.9 1284.13,549.76 1294.29,550.78 1286.7,557.28 1288.82,566.77 1279.98,561.92 1271.14,566.77 1273.25,557.28 1265.67,550.78 1275.82,549.76" fill="#ff8000"/>
<polygon points="1299.29,291.5 1303.45,300.36 1313.6,301.38 1306.02,307.88 1308.13,317.37 1299.29,312.52 1290.45,317.37 1292.57,307.88 1284.98,301.38 1295.14,300.36" fill="#ff8000"/>
<polygon points="1329.76,575.9 1333.92,584.76 1344.07,585.78 1336.49,592.28 1338.61,601.77 1329.76,596.92 1320.92,601.77 1323.04,592.28 1315.46,585.78 1325.61,584.76" fill="#ff8000"/>
<polygon points="1353.4,547.2 1357.56,556.06 1367.71,557.08 1360.12,563.58 1362.24,573.07 1353.4,568.22 1344.56,573.07 1346.68,563.58 1339.09,557.08 1349.24,556.06" fill="#ff8000"/>
<polygon points="1396.35,568.7 1400.5,577.56 1410.66,578.58 1403.07,585.08 1405.19,594.57 1396.35,589.72 1387.51,594.57 1389.62,585.08 1382.04,578.58 1392.19,577.56" fill="#ff8000"/>
<polygon points="1426.82,540 1430.98,548.86 1441.13,549.88 1433.55,556.38 1435.66,565.87 1426.82,561.02 1417.98,565.87 1420.1,556.38 1412.51,549.88 1422.67,548.86" fill="#ff8000"/>
<polygon points="1469.77,497.3 1473.93,506.16 1484.08,507.18 1476.49,513.68 1478.61,523.17 1469.77,518.32 1460.93,523.17 1463.05,513.68 1455.46,507.18 1465.61,506.16" fill="#ff8000"/>
<polygon points="1500.24,442.6 1504.4,451.46 1514.55,452.48 1506.97,458.98 1509.08,468.47 1500.24,463.62 1491.4,468.47 1493.52,458.98 1485.94,452.48 1496.09,451.46" fill="#ff8000"/>
<polygon points="1523.88,408.1 1528.03,416.96 1538.19,417.98 1530.6,424.48 1532.72,433.97 1523.88,429.12 1515.04,433.97 1517.15,424.48 1509.57,417.98 1519.72,416.96" fill="#ff8000"/>
<polygon points="1543.19,394 1547.35,402.86 1557.5,403.88 1549.92,410.38 1552.03,419.87 1543.19,415.02 1534.35,419.87 1536.47,410.38 1528.88,403.88 1539.04,402.86" fill="#ff8000"/>
<polygon points="1573.66,374.6 1577.82,383.46 1587.97,384.48 1580.39,390.98 1582.51,400.47 1573.66,395.62 1564.82,400.47 1566.94,390.98 1559.36,384.48 1569.51,383.46" fill="#ff8000"/>
<polygon points="1597.3,368.4 1601.46,377.26 1611.61,378.28 1604.02,384.78 1606.14,394.27 1597.3,389.42 1588.46,394.27 1590.58,384.78 1582.99,378.28 1593.14,377.26" fill="#ff8000"/>
<polygon points="1640.25,357.8 1644.4,366.66 1654.56,367.68 1646.97,374.18 1649.09,383.67 1640.25,378.82 1631.41,383.67 1633.52,374.18 1625.94,367.68 1636.09,366.66" fill="#ff8000"/>
<polygon points="1670.72,355.2 1674.88,364.06 1685.03,365.08 1677.45,371.58 1679.56,381.07 1670.72,376.22 1661.88,381.07 1664,371.58 1656.41,365.08 1666.57,364.06" fill="#ff8000"/>
<polygon points="1713.67,356.7 1717.83,365.56 1727.98,366.58 1720.39,373.08 1722.51,382.57 1713.67,377.72 1704.83,382.57 1706.95,373.08 1699.36,366.58 1709.51,365.56" fill="#ff8000"/>
<polygon points="1744.14,351.6 1748.3,360.46 1758.45,361.48 1750.87,367.98 1752.98,377.47 1744.14,372.62 1735.3,377.47 1737.42,367.98 1729.84,361.48 1739.99,360.46" fill="#ff8000"/>
<polygon points="1767.78,341.3 1771.93,350.16 1782.09,351.18 1774.5,357.68 1776.62,367.17 1767.78,362.32 1758.94,367.17 1761.05,357.68 1753.47,351.18 1763.62,350.16" fill="#ff8000"/>
<polygon points="1787.09,327.2 1791.25,336.06 1801.4,337.08 1793.82,343.58 1795.93,353.07 1787.09,348.22 1778.25,353.07 1780.37,343.58 1772.78,337.08 1782.94,336.06" fill="#ff8000"/>
<polygon points="1817.56,286.2 1821.72,295.06 1831.87,296.08 1824.29,302.58 1826.41,312.07 1817.56,307.22 1808.72,312.07 1810.84,302.58 1803.26,296.08 1813.41,295.06" fill="#ff8000"/>
<polygon points="1841.2,237.5 1845.36,246.36 1855.51,247.38 1847.92,253.88 1850.04,263.37 1841.2,258.52 1832.36,263.37 1834.48,253.88 1826.89,247.38 1837.04,246.36" fill="#ff8000"/>
<polygon points="1884.15,86.7 1888.3,95.56 1898.46,96.58 1890.87,103.08 1892.99,112.57 1884.15,107.72 1875.31,112.57 1877.42,103.08 1869.84,96.58 1879.99,95.56" fill="#ff8000"/>
</g>
<path d="M1109.5,16.6V638.6M1097.7,638.6H1898.27M1097.7,638.6H1109.5M1103.4,591.79H1109.5M1103.4,564.41H1109.5M1103.4,544.98H1109.5M1103.4,529.91H1109.5M1103.4,517.6H1109.5M1103.4,507.19H1109.5M1103.4,498.17H1109.5M1103.4,490.22H1109.5M1097.7,483.1H1109.5M1103.4,436.29H1109.5M1103.4,408.91H1109.5M1103.4,389.48H1109.5M1103.4,374.41H1109.5M1103.4,362.1H1109.5M1103.4,351.69H1109.5M1103.4,342.67H1109.5M1103.4,334.72H1109.5M1097.7,327.6H1109.5M1103.4,280.79H1109.5M1103.4,253.41H1109.5M1103.4,233.98H1109.5M1103.4,218.91H1109.5M1103.4,206.6H1109.5M1103.4,196.19H1109.5M1103.4,187.17H1109.5M1103.4,179.22H1109.5M1097.7,172.1H1109.5M1103.4,125.29H1109.5M1103.4,97.91H1109.5M1103.4,78.48H1109.5M1103.4,63.41H1109.5M1103.4,51.1H1109.5M1103.4,40.69H1109.5M1103.4,31.67H1109.5M1103.4,23.72H1109.5M1097.7,16.6H1109.5M1109.5,638.6V650.3M1182.92,638.6V644.6M1225.87,638.6V644.6M1256.34,638.6V644.6M1279.98,638.6V644.6M1299.29,638.6V644.6M1315.62,638.6V644.6M1329.76,638.6V644.6M1342.24,638.6V644.6M1353.4,638.6V650.3M1426.82,638.6V644.6M1469.77,638.6V644.6M1500.24,638.6V644.6M1523.88,638.6V644.6M1543.19,638.6V644.6M1559.52,638.6V644.6M1573.66,638.6V644.6M1586.14,638.6V644.6M1597.3,638.6V650.3M1670.72,638.6V644.6M1713.67,638.6V644.6M1744.14,638.6V644.6M1767.78,638.6V644.6M1787.09,638.6V644.6M1803.42,638.6V644.6M1817.56,638.6V644.6M1830.04,638.6V644.6M1841.2,638.6V650.3" stroke="#000" stroke-width="2.5" fill="none"/>
<text transform="translate(1048.86,648.5) scale(1.0520,1)" font-family='"Liberation Sans", Arial, sans-serif' font-weight="bold" font-size="26">10</text>
<text transform="translate(1078.93,636.7) scale(1.0520,1)" font-family='"Liberation Sans", Arial, sans-serif' font-weight="bold" font-size="16.5">0</text>
<text transform="translate(1048.86,493) scale(1.0520,1)" font-family='"Liberation Sans", Arial, sans-serif' font-weight="bold" font-size="26">10</text>
<text transform="translate(1078.53,481.2) scale(1.0520,1)" font-family='"Liberation Sans", Arial, sans-serif' font-weight="bold" font-size="16.5">1</text>
<text transform="translate(1048.86,337.5) scale(1.0520,1)" font-family='"Liberation Sans", Arial, sans-serif' font-weight="bold" font-size="26">10</text>
<text transform="translate(1079.02,325.7) scale(1.0520,1)" font-family='"Liberation Sans", Arial, sans-serif' font-weight="bold" font-size="16.5">2</text>
<text transform="translate(1048.86,182) scale(1.0520,1)" font-family='"Liberation Sans", Arial, sans-serif' font-weight="bold" font-size="26">10</text>
<text transform="translate(1079.22,170.2) scale(1.0520,1)" font-family='"Liberation Sans", Arial, sans-serif' font-weight="bold" font-size="16.5">3</text>
<text transform="translate(1048.86,26.5) scale(1.0520,1)" font-family='"Liberation Sans", Arial, sans-serif' font-weight="bold" font-size="26">10</text>
<text transform="translate(1079.36,14.7) scale(1.0520,1)" font-family='"Liberation Sans", Arial, sans-serif' font-weight="bold" font-size="16.5">4</text>
<text transform="translate(1084.58,679.6) scale(1.0520,1)" font-family='"Liberation Sans", Arial, sans-serif' font-weight="bold" font-size="24.2">0.01</text>
<text transform="translate(1335.55,679.6) scale(1.0520,1)" font-family='"Liberation Sans", Arial, sans-serif' font-weight="bold" font-size="24.2">0.1</text>
<text transform="translate(1589.78,679.6) scale(1.0520,1)" font-family='"Liberation Sans", Arial, sans-serif' font-weight="bold" font-size="24.2">1</text>
<text transform="translate(1826.77,679.6) scale(1.0520,1)" font-family='"Liberation Sans", Arial, sans-serif' font-weight="bold" font-size="24.2">10</text>
<text transform="translate(1338.95,732.3) scale(1.0520,1)" font-family='"Liberation Sans", Arial, sans-serif' font-weight="bold" font-size="31.3">Photon energy (MeV)</text>
<text transform="translate(1034.8,359.37) scale(1.0520,1) rotate(-90)" font-family='"Liberation Sans", Arial, sans-serif' font-weight="bold" font-size="31.3">EBF</text>
<text transform="translate(1126.04,45.9) scale(1.0520,1)" font-family='"Liberation Sans", Arial, sans-serif' font-weight="bold" font-size="25">1.5Pb</text>
<text transform="translate(1709.97,82.2) scale(1.0520,1)" font-family='"Liberation Sans", Arial, sans-serif' font-weight="bold" font-size="25.65">PD (mfp)</text>
<path d="M1710.73,106.7H1770.27" stroke="#000" stroke-width="2.8"/>
<rect x="1731.14" y="97.8" width="18.73" height="17.8" fill="#ff0000"/>
<text transform="translate(1778.16,115.7) scale(1.0520,1)" font-family='"Liberation Sans", Arial, sans-serif' font-weight="bold" font-size="25">0.5</text>
<path d="M1710.73,140H1770.27" stroke="#000" stroke-width="2.8"/>
<ellipse cx="1740.5" cy="140" rx="10.36" ry="9.85" fill="#00ff00"/>
<text transform="translate(1778.4,149) scale(1.0520,1)" font-family='"Liberation Sans", Arial, sans-serif' font-weight="bold" font-size="25">5</text>
<path d="M1710.73,174H1770.27" stroke="#000" stroke-width="2.8"/>
<polygon points="1740.5,160.47 1752.81,180.77 1728.19,180.77" fill="#0000ff"/>
<text transform="translate(1777.56,183) scale(1.0520,1)" font-family='"Liberation Sans", Arial, sans-serif' font-weight="bold" font-size="25">10</text>
<path d="M1710.73,207.3H1770.27" stroke="#000" stroke-width="2.8"/>
<polygon points="1740.5,194.9 1753.54,207.3 1740.5,219.7 1727.46,207.3" fill="#ff00ff"/>
<text transform="translate(1778.29,216.3) scale(1.0520,1)" font-family='"Liberation Sans", Arial, sans-serif' font-weight="bold" font-size="25">20</text>
<path d="M1710.73,240.7H1770.27" stroke="#000" stroke-width="2.8"/>
<polygon points="1740.5,226.4 1744.66,235.26 1754.81,236.28 1747.22,242.78 1749.34,252.27 1740.5,247.42 1731.66,252.27 1733.78,242.78 1726.19,236.28 1736.34,235.26" fill="#ff8000"/>
<text transform="translate(1778.82,249.7) scale(1.0520,1)" font-family='"Liberation Sans", Arial, sans-serif' font-weight="bold" font-size="25">40</text>
<text transform="translate(1740.76,282.7) scale(1.0520,1)" font-family='"Liberation Sans", Arial, sans-serif' font-weight="bold" font-size="25">(b)</text>
<text transform="translate(1494.49,842.5) scale(1.0500,1)" font-family='"Liberation Serif", serif' font-weight="normal" font-size="42">(b)</text>
</g>
<g id="chart-c">
<clipPath id="clip-c"><rect x="108.6" y="0" width="872.43" height="1522.65"/></clipPath>
<g clip-path="url(#clip-c)">
<polyline transform="scale(1.1102,1)" points="138.64,1523.5 167.61,1523.2 208.44,1523 237.4,1455.6 259.87,1459.6 278.23,1466 307.19,1489.7 329.66,1510.3 370.49,1514 399.45,1512.3 440.28,1509.3 469.25,1506.7 491.71,1504.9 510.07,1504 539.04,1503.2 561.51,1503.2 602.33,1506.5 631.3,1505.9 672.12,1506.7 701.09,1507.3 723.56,1507.3 741.92,1508.1 770.88,1508.1 793.35,1509.4 834.18,1509.4" fill="none" stroke="#000" stroke-width="2.8" stroke-linejoin="round"/>
<rect x="144.04" y="1514.6" width="19.76" height="17.8" fill="#ff0000"/>
<rect x="176.2" y="1514.3" width="19.76" height="17.8" fill="#ff0000"/>
<rect x="221.53" y="1514.1" width="19.76" height="17.8" fill="#ff0000"/>
<rect x="253.69" y="1446.7" width="19.76" height="17.8" fill="#ff0000"/>
<rect x="278.63" y="1450.7" width="19.76" height="17.8" fill="#ff0000"/>
<rect x="299.02" y="1457.1" width="19.76" height="17.8" fill="#ff0000"/>
<rect x="331.17" y="1480.8" width="19.76" height="17.8" fill="#ff0000"/>
<rect x="356.12" y="1501.4" width="19.76" height="17.8" fill="#ff0000"/>
<rect x="401.44" y="1505.1" width="19.76" height="17.8" fill="#ff0000"/>
<rect x="433.6" y="1503.4" width="19.76" height="17.8" fill="#ff0000"/>
<rect x="478.93" y="1500.4" width="19.76" height="17.8" fill="#ff0000"/>
<rect x="511.09" y="1497.8" width="19.76" height="17.8" fill="#ff0000"/>
<rect x="536.03" y="1496" width="19.76" height="17.8" fill="#ff0000"/>
<rect x="556.42" y="1495.1" width="19.76" height="17.8" fill="#ff0000"/>
<rect x="588.57" y="1494.3" width="19.76" height="17.8" fill="#ff0000"/>
<rect x="613.52" y="1494.3" width="19.76" height="17.8" fill="#ff0000"/>
<rect x="658.84" y="1497.6" width="19.76" height="17.8" fill="#ff0000"/>
<rect x="691" y="1497" width="19.76" height="17.8" fill="#ff0000"/>
<rect x="736.33" y="1497.8" width="19.76" height="17.8" fill="#ff0000"/>
<rect x="768.49" y="1498.4" width="19.76" height="17.8" fill="#ff0000"/>
<rect x="793.43" y="1498.4" width="19.76" height="17.8" fill="#ff0000"/>
<rect x="813.82" y="1499.2" width="19.76" height="17.8" fill="#ff0000"/>
<rect x="845.97" y="1499.2" width="19.76" height="17.8" fill="#ff0000"/>
<rect x="870.92" y="1500.5" width="19.76" height="17.8" fill="#ff0000"/>
<rect x="916.24" y="1500.5" width="19.76" height="17.8" fill="#ff0000"/>
<polyline transform="scale(1.1102,1)" points="138.64,1523.5 167.61,1522 208.44,1521.5 237.4,1384 259.87,1435.4 278.23,1445.5 307.19,1483.6 329.66,1497.2 370.49,1497.9 399.45,1485.5 440.28,1464.3 469.25,1444.9 491.71,1432.5 510.07,1426.3 539.04,1419.3 561.51,1417.5 602.33,1421 631.3,1420.8 672.12,1424.9 701.09,1431.6 723.56,1434.3 741.92,1437 770.88,1437 793.35,1437 834.18,1424.9" fill="none" stroke="#000" stroke-width="2.8" stroke-linejoin="round"/>
<ellipse cx="153.93" cy="1523.5" rx="10.94" ry="9.85" fill="#00ff00"/>
<ellipse cx="186.09" cy="1522" rx="10.94" ry="9.85" fill="#00ff00"/>
<ellipse cx="231.41" cy="1521.5" rx="10.94" ry="9.85" fill="#00ff00"/>
<ellipse cx="263.57" cy="1384" rx="10.94" ry="9.85" fill="#00ff00"/>
<ellipse cx="288.51" cy="1435.4" rx="10.94" ry="9.85" fill="#00ff00"/>
<ellipse cx="308.9" cy="1445.5" rx="10.94" ry="9.85" fill="#00ff00"/>
<ellipse cx="341.06" cy="1483.6" rx="10.94" ry="9.85" fill="#00ff00"/>
<ellipse cx="366" cy="1497.2" rx="10.94" ry="9.85" fill="#00ff00"/>
<ellipse cx="411.33" cy="1497.9" rx="10.94" ry="9.85" fill="#00ff00"/>
<ellipse cx="443.49" cy="1485.5" rx="10.94" ry="9.85" fill="#00ff00"/>
<ellipse cx="488.81" cy="1464.3" rx="10.94" ry="9.85" fill="#00ff00"/>
<ellipse cx="520.97" cy="1444.9" rx="10.94" ry="9.85" fill="#00ff00"/>
<ellipse cx="545.91" cy="1432.5" rx="10.94" ry="9.85" fill="#00ff00"/>
<ellipse cx="566.3" cy="1426.3" rx="10.94" ry="9.85" fill="#00ff00"/>
<ellipse cx="598.46" cy="1419.3" rx="10.94" ry="9.85" fill="#00ff00"/>
<ellipse cx="623.4" cy="1417.5" rx="10.94" ry="9.85" fill="#00ff00"/>
<ellipse cx="668.73" cy="1421" rx="10.94" ry="9.85" fill="#00ff00"/>
<ellipse cx="700.89" cy="1420.8" rx="10.94" ry="9.85" fill="#00ff00"/>
<ellipse cx="746.21" cy="1424.9" rx="10.94" ry="9.85" fill="#00ff00"/>
<ellipse cx="778.37" cy="1431.6" rx="10.94" ry="9.85" fill="#00ff00"/>
<ellipse cx="803.31" cy="1434.3" rx="10.94" ry="9.85" fill="#00ff00"/>
<ellipse cx="823.7" cy="1437" rx="10.94" ry="9.85" fill="#00ff00"/>
<ellipse cx="855.86" cy="1437" rx="10.94" ry="9.85" fill="#00ff00"/>
<ellipse cx="880.8" cy="1437" rx="10.94" ry="9.85" fill="#00ff00"/>
<ellipse cx="926.13" cy="1424.9" rx="10.94" ry="9.85" fill="#00ff00"/>
<polyline transform="scale(1.1102,1)" points="138.64,1523.5 167.61,1520.7 208.44,1520 237.4,1376.4 259.87,1438.4 278.23,1430.8 307.19,1481.5 329.66,1491.8 370.49,1490.5 399.45,1473.7 440.28,1442.7 469.25,1413.6 491.71,1395.9 510.07,1386.2 539.04,1376.3 561.51,1372.7 602.33,1372.9 631.3,1375.1 672.12,1377.8 701.09,1385.4 723.56,1388.1 741.92,1390.8 770.88,1389.5 793.35,1382.7 834.18,1353" fill="none" stroke="#000" stroke-width="2.8" stroke-linejoin="round"/>
<polygon points="153.93,1509.97 166.92,1530.27 140.94,1530.27" fill="#0000ff"/>
<polygon points="186.09,1507.17 199.07,1527.47 173.1,1527.47" fill="#0000ff"/>
<polygon points="231.41,1506.47 244.4,1526.77 218.42,1526.77" fill="#0000ff"/>
<polygon points="263.57,1362.87 276.56,1383.17 250.58,1383.17" fill="#0000ff"/>
<polygon points="288.51,1424.87 301.5,1445.17 275.53,1445.17" fill="#0000ff"/>
<polygon points="308.9,1417.27 321.89,1437.57 295.91,1437.57" fill="#0000ff"/>
<polygon points="341.06,1467.97 354.05,1488.27 328.07,1488.27" fill="#0000ff"/>
<polygon points="366,1478.27 378.99,1498.57 353.01,1498.57" fill="#0000ff"/>
<polygon points="411.33,1476.97 424.32,1497.27 398.34,1497.27" fill="#0000ff"/>
<polygon points="443.49,1460.17 456.47,1480.47 430.5,1480.47" fill="#0000ff"/>
<polygon points="488.81,1429.17 501.8,1449.47 475.82,1449.47" fill="#0000ff"/>
<polygon points="520.97,1400.07 533.96,1420.37 507.98,1420.37" fill="#0000ff"/>
<polygon points="545.91,1382.37 558.9,1402.67 532.93,1402.67" fill="#0000ff"/>
<polygon points="566.3,1372.67 579.29,1392.97 553.31,1392.97" fill="#0000ff"/>
<polygon points="598.46,1362.77 611.45,1383.07 585.47,1383.07" fill="#0000ff"/>
<polygon points="623.4,1359.17 636.39,1379.47 610.41,1379.47" fill="#0000ff"/>
<polygon points="668.73,1359.37 681.72,1379.67 655.74,1379.67" fill="#0000ff"/>
<polygon points="700.89,1361.57 713.87,1381.87 687.9,1381.87" fill="#0000ff"/>
<polygon points="746.21,1364.27 759.2,1384.57 733.22,1384.57" fill="#0000ff"/>
<polygon points="778.37,1371.87 791.36,1392.17 765.38,1392.17" fill="#0000ff"/>
<polygon points="803.31,1374.57 816.3,1394.87 790.33,1394.87" fill="#0000ff"/>
<polygon points="823.7,1377.27 836.69,1397.57 810.71,1397.57" fill="#0000ff"/>
<polygon points="855.86,1375.97 868.85,1396.27 842.87,1396.27" fill="#0000ff"/>
<polygon points="880.8,1369.17 893.79,1389.47 867.81,1389.47" fill="#0000ff"/>
<polygon points="926.13,1339.47 939.12,1359.77 913.14,1359.77" fill="#0000ff"/>
<polyline transform="scale(1.1102,1)" points="138.64,1523.5 167.61,1519.5 208.44,1518.5 237.4,1365.9 259.87,1438.4 278.23,1401.2 307.19,1477.8 329.66,1478.7 370.49,1483.7 399.45,1459 440.28,1421.9 469.25,1378.7 491.71,1353 510.07,1340.7 539.04,1324.8 561.51,1319.5 602.33,1314.2 631.3,1314.1 672.12,1314.1 701.09,1318.2 723.56,1316.8 741.92,1315.5 770.88,1300.6 793.35,1283 834.18,1214.2" fill="none" stroke="#000" stroke-width="2.8" stroke-linejoin="round"/>
<polygon points="153.93,1511.1 167.69,1523.5 153.93,1535.9 140.16,1523.5" fill="#ff00ff"/>
<polygon points="186.09,1507.1 199.85,1519.5 186.09,1531.9 172.32,1519.5" fill="#ff00ff"/>
<polygon points="231.41,1506.1 245.18,1518.5 231.41,1530.9 217.64,1518.5" fill="#ff00ff"/>
<polygon points="263.57,1353.5 277.34,1365.9 263.57,1378.3 249.8,1365.9" fill="#ff00ff"/>
<polygon points="288.51,1426 302.28,1438.4 288.51,1450.8 274.75,1438.4" fill="#ff00ff"/>
<polygon points="308.9,1388.8 322.66,1401.2 308.9,1413.6 295.13,1401.2" fill="#ff00ff"/>
<polygon points="341.06,1465.4 354.82,1477.8 341.06,1490.2 327.29,1477.8" fill="#ff00ff"/>
<polygon points="366,1466.3 379.77,1478.7 366,1491.1 352.23,1478.7" fill="#ff00ff"/>
<polygon points="411.33,1471.3 425.09,1483.7 411.33,1496.1 397.56,1483.7" fill="#ff00ff"/>
<polygon points="443.49,1446.6 457.25,1459 443.49,1471.4 429.72,1459" fill="#ff00ff"/>
<polygon points="488.81,1409.5 502.58,1421.9 488.81,1434.3 475.04,1421.9" fill="#ff00ff"/>
<polygon points="520.97,1366.3 534.74,1378.7 520.97,1391.1 507.2,1378.7" fill="#ff00ff"/>
<polygon points="545.91,1340.6 559.68,1353 545.91,1365.4 532.15,1353" fill="#ff00ff"/>
<polygon points="566.3,1328.3 580.06,1340.7 566.3,1353.1 552.53,1340.7" fill="#ff00ff"/>
<polygon points="598.46,1312.4 612.22,1324.8 598.46,1337.2 584.69,1324.8" fill="#ff00ff"/>
<polygon points="623.4,1307.1 637.17,1319.5 623.4,1331.9 609.63,1319.5" fill="#ff00ff"/>
<polygon points="668.73,1301.8 682.49,1314.2 668.73,1326.6 654.96,1314.2" fill="#ff00ff"/>
<polygon points="700.89,1301.7 714.65,1314.1 700.89,1326.5 687.12,1314.1" fill="#ff00ff"/>
<polygon points="746.21,1301.7 759.98,1314.1 746.21,1326.5 732.44,1314.1" fill="#ff00ff"/>
<polygon points="778.37,1305.8 792.14,1318.2 778.37,1330.6 764.6,1318.2" fill="#ff00ff"/>
<polygon points="803.31,1304.4 817.08,1316.8 803.31,1329.2 789.55,1316.8" fill="#ff00ff"/>
<polygon points="823.7,1303.1 837.46,1315.5 823.7,1327.9 809.93,1315.5" fill="#ff00ff"/>
<polygon points="855.86,1288.2 869.62,1300.6 855.86,1313 842.09,1300.6" fill="#ff00ff"/>
<polygon points="880.8,1270.6 894.57,1283 880.8,1295.4 867.03,1283" fill="#ff00ff"/>
<polygon points="926.13,1201.8 939.89,1214.2 926.13,1226.6 912.36,1214.2" fill="#ff00ff"/>
<polyline transform="scale(1.1102,1)" points="138.64,1522.3 167.61,1518.3 208.44,1517 237.4,1359.9 259.87,1437.5 278.23,1147.3 307.19,1474.7 329.66,1453.5 370.49,1469.5 399.45,1441.7 440.28,1399 469.25,1343.3 491.71,1308 510.07,1293.9 539.04,1272.7 561.51,1265.6 602.33,1252 631.3,1249.6 672.12,1248.3 701.09,1244.2 723.56,1232.1 741.92,1218.6 770.88,1174 793.35,1124 834.18,968.7" fill="none" stroke="#000" stroke-width="2.8" stroke-linejoin="round"/>
<polygon points="153.93,1508 158.31,1516.86 169.03,1517.88 161.02,1524.38 163.26,1533.87 153.93,1529.02 144.59,1533.87 146.83,1524.38 138.83,1517.88 149.54,1516.86" fill="#ff8000"/>
<polygon points="186.09,1504 190.47,1512.86 201.18,1513.88 193.18,1520.38 195.42,1529.87 186.09,1525.02 176.75,1529.87 178.99,1520.38 170.99,1513.88 181.7,1512.86" fill="#ff8000"/>
<polygon points="231.41,1502.7 235.8,1511.56 246.51,1512.58 238.51,1519.08 240.74,1528.57 231.41,1523.72 222.08,1528.57 224.31,1519.08 216.31,1512.58 227.03,1511.56" fill="#ff8000"/>
<polygon points="263.57,1345.6 267.96,1354.46 278.67,1355.48 270.67,1361.98 272.9,1371.47 263.57,1366.62 254.24,1371.47 256.47,1361.98 248.47,1355.48 259.18,1354.46" fill="#ff8000"/>
<polygon points="288.51,1423.2 292.9,1432.06 303.61,1433.08 295.61,1439.58 297.85,1449.07 288.51,1444.22 279.18,1449.07 281.42,1439.58 273.42,1433.08 284.13,1432.06" fill="#ff8000"/>
<polygon points="308.9,1133 313.28,1141.86 324,1142.88 315.99,1149.38 318.23,1158.87 308.9,1154.02 299.56,1158.87 301.8,1149.38 293.8,1142.88 304.51,1141.86" fill="#ff8000"/>
<polygon points="341.06,1460.4 345.44,1469.26 356.15,1470.28 348.15,1476.78 350.39,1486.27 341.06,1481.42 331.72,1486.27 333.96,1476.78 325.96,1470.28 336.67,1469.26" fill="#ff8000"/>
<polygon points="366,1439.2 370.39,1448.06 381.1,1449.08 373.1,1455.58 375.33,1465.07 366,1460.22 356.67,1465.07 358.9,1455.58 350.9,1449.08 361.61,1448.06" fill="#ff8000"/>
<polygon points="411.33,1455.2 415.71,1464.06 426.43,1465.08 418.42,1471.58 420.66,1481.07 411.33,1476.22 401.99,1481.07 404.23,1471.58 396.23,1465.08 406.94,1464.06" fill="#ff8000"/>
<polygon points="443.49,1427.4 447.87,1436.26 458.58,1437.28 450.58,1443.78 452.82,1453.27 443.49,1448.42 434.15,1453.27 436.39,1443.78 428.39,1437.28 439.1,1436.26" fill="#ff8000"/>
<polygon points="488.81,1384.7 493.2,1393.56 503.91,1394.58 495.91,1401.08 498.14,1410.57 488.81,1405.72 479.48,1410.57 481.71,1401.08 473.71,1394.58 484.43,1393.56" fill="#ff8000"/>
<polygon points="520.97,1329 525.36,1337.86 536.07,1338.88 528.07,1345.38 530.3,1354.87 520.97,1350.02 511.64,1354.87 513.87,1345.38 505.87,1338.88 516.58,1337.86" fill="#ff8000"/>
<polygon points="545.91,1293.7 550.3,1302.56 561.01,1303.58 553.01,1310.08 555.25,1319.57 545.91,1314.72 536.58,1319.57 538.82,1310.08 530.82,1303.58 541.53,1302.56" fill="#ff8000"/>
<polygon points="566.3,1279.6 570.68,1288.46 581.4,1289.48 573.39,1295.98 575.63,1305.47 566.3,1300.62 556.96,1305.47 559.2,1295.98 551.2,1289.48 561.91,1288.46" fill="#ff8000"/>
<polygon points="598.46,1258.4 602.84,1267.26 613.55,1268.28 605.55,1274.78 607.79,1284.27 598.46,1279.42 589.12,1284.27 591.36,1274.78 583.36,1268.28 594.07,1267.26" fill="#ff8000"/>
<polygon points="623.4,1251.3 627.79,1260.16 638.5,1261.18 630.5,1267.68 632.73,1277.17 623.4,1272.32 614.07,1277.17 616.3,1267.68 608.3,1261.18 619.01,1260.16" fill="#ff8000"/>
<polygon points="668.73,1237.7 673.11,1246.56 683.83,1247.58 675.82,1254.08 678.06,1263.57 668.73,1258.72 659.39,1263.57 661.63,1254.08 653.63,1247.58 664.34,1246.56" fill="#ff8000"/>
<polygon points="700.89,1235.3 705.27,1244.16 715.98,1245.18 707.98,1251.68 710.22,1261.17 700.89,1256.32 691.55,1261.17 693.79,1251.68 685.79,1245.18 696.5,1244.16" fill="#ff8000"/>
<polygon points="746.21,1234 750.6,1242.86 761.31,1243.88 753.31,1250.38 755.54,1259.87 746.21,1255.02 736.88,1259.87 739.11,1250.38 731.11,1243.88 741.83,1242.86" fill="#ff8000"/>
<polygon points="778.37,1229.9 782.76,1238.76 793.47,1239.78 785.47,1246.28 787.7,1255.77 778.37,1250.92 769.04,1255.77 771.27,1246.28 763.27,1239.78 773.98,1238.76" fill="#ff8000"/>
<polygon points="803.31,1217.8 807.7,1226.66 818.41,1227.68 810.41,1234.18 812.65,1243.67 803.31,1238.82 793.98,1243.67 796.22,1234.18 788.22,1227.68 798.93,1226.66" fill="#ff8000"/>
<polygon points="823.7,1204.3 828.08,1213.16 838.8,1214.18 830.79,1220.68 833.03,1230.17 823.7,1225.32 814.36,1230.17 816.6,1220.68 808.6,1214.18 819.31,1213.16" fill="#ff8000"/>
<polygon points="855.86,1159.7 860.24,1168.56 870.95,1169.58 862.95,1176.08 865.19,1185.57 855.86,1180.72 846.52,1185.57 848.76,1176.08 840.76,1169.58 851.47,1168.56" fill="#ff8000"/>
<polygon points="880.8,1109.7 885.19,1118.56 895.9,1119.58 887.9,1126.08 890.13,1135.57 880.8,1130.72 871.47,1135.57 873.7,1126.08 865.7,1119.58 876.41,1118.56" fill="#ff8000"/>
<polygon points="926.13,954.4 930.51,963.26 941.23,964.28 933.22,970.78 935.46,980.27 926.13,975.42 916.79,980.27 919.03,970.78 911.03,964.28 921.74,963.26" fill="#ff8000"/>
</g>
<path d="M108.6,887.9V1523.9M96.15,1523.9H941.03M96.15,1523.9H108.6M102.17,1476.04H108.6M102.17,1448.04H108.6M102.17,1428.17H108.6M102.17,1412.76H108.6M102.17,1400.17H108.6M102.17,1389.53H108.6M102.17,1380.31H108.6M102.17,1372.18H108.6M96.15,1364.9H108.6M102.17,1317.04H108.6M102.17,1289.04H108.6M102.17,1269.17H108.6M102.17,1253.76H108.6M102.17,1241.17H108.6M102.17,1230.53H108.6M102.17,1221.31H108.6M102.17,1213.18H108.6M96.15,1205.9H108.6M102.17,1158.04H108.6M102.17,1130.04H108.6M102.17,1110.17H108.6M102.17,1094.76H108.6M102.17,1082.17H108.6M102.17,1071.53H108.6M102.17,1062.31H108.6M102.17,1054.18H108.6M96.15,1046.9H108.6M102.17,999.04H108.6M102.17,971.04H108.6M102.17,951.17H108.6M102.17,935.76H108.6M102.17,923.17H108.6M102.17,912.53H108.6M102.17,903.31H108.6M102.17,895.18H108.6M96.15,887.9H108.6M108.6,1523.9V1535.6M186.09,1523.9V1529.9M231.41,1523.9V1529.9M263.57,1523.9V1529.9M288.51,1523.9V1529.9M308.9,1523.9V1529.9M326.13,1523.9V1529.9M341.06,1523.9V1529.9M354.22,1523.9V1529.9M366,1523.9V1535.6M443.49,1523.9V1529.9M488.81,1523.9V1529.9M520.97,1523.9V1529.9M545.91,1523.9V1529.9M566.3,1523.9V1529.9M583.53,1523.9V1529.9M598.46,1523.9V1529.9M611.62,1523.9V1529.9M623.4,1523.9V1535.6M700.89,1523.9V1529.9M746.21,1523.9V1529.9M778.37,1523.9V1529.9M803.31,1523.9V1529.9M823.7,1523.9V1529.9M840.93,1523.9V1529.9M855.86,1523.9V1529.9M869.02,1523.9V1529.9M880.8,1523.9V1535.6" stroke="#000" stroke-width="2.5" fill="none"/>
<text transform="translate(44.61,1533.8) scale(1.1102,1)" font-family='"Liberation Sans", Arial, sans-serif' font-weight="bold" font-size="26">10</text>
<text transform="translate(76.34,1522) scale(1.1102,1)" font-family='"Liberation Sans", Arial, sans-serif' font-weight="bold" font-size="16.5">0</text>
<text transform="translate(44.61,1374.8) scale(1.1102,1)" font-family='"Liberation Sans", Arial, sans-serif' font-weight="bold" font-size="26">10</text>
<text transform="translate(75.92,1363) scale(1.1102,1)" font-family='"Liberation Sans", Arial, sans-serif' font-weight="bold" font-size="16.5">1</text>
<text transform="translate(44.61,1215.8) scale(1.1102,1)" font-family='"Liberation Sans", Arial, sans-serif' font-weight="bold" font-size="26">10</text>
<text transform="translate(76.43,1204) scale(1.1102,1)" font-family='"Liberation Sans", Arial, sans-serif' font-weight="bold" font-size="16.5">2</text>
<text transform="translate(44.61,1056.8) scale(1.1102,1)" font-family='"Liberation Sans", Arial, sans-serif' font-weight="bold" font-size="26">10</text>
<text transform="translate(76.65,1045) scale(1.1102,1)" font-family='"Liberation Sans", Arial, sans-serif' font-weight="bold" font-size="16.5">3</text>
<text transform="translate(44.61,897.8) scale(1.1102,1)" font-family='"Liberation Sans", Arial, sans-serif' font-weight="bold" font-size="26">10</text>
<text transform="translate(76.79,886) scale(1.1102,1)" font-family='"Liberation Sans", Arial, sans-serif' font-weight="bold" font-size="16.5">4</text>
<text transform="translate(82.3,1564.9) scale(1.1102,1)" font-family='"Liberation Sans", Arial, sans-serif' font-weight="bold" font-size="24.2">0.01</text>
<text transform="translate(347.17,1564.9) scale(1.1102,1)" font-family='"Liberation Sans", Arial, sans-serif' font-weight="bold" font-size="24.2">0.1</text>
<text transform="translate(615.46,1564.9) scale(1.1102,1)" font-family='"Liberation Sans", Arial, sans-serif' font-weight="bold" font-size="24.2">1</text>
<text transform="translate(865.57,1564.9) scale(1.1102,1)" font-family='"Liberation Sans", Arial, sans-serif' font-weight="bold" font-size="24.2">10</text>
<text transform="translate(350.75,1618.9) scale(1.1102,1)" font-family='"Liberation Sans", Arial, sans-serif' font-weight="bold" font-size="31.3">Photon energy (MeV)</text>
<text transform="translate(29.7,1237.67) scale(1.1102,1) rotate(-90)" font-family='"Liberation Sans", Arial, sans-serif' font-weight="bold" font-size="31.3">EBF</text>
<text transform="translate(126.33,917.9) scale(1.1102,1)" font-family='"Liberation Sans", Arial, sans-serif' font-weight="bold" font-size="25">2.5Pb</text>
<text transform="translate(742.78,956) scale(1.1102,1)" font-family='"Liberation Sans", Arial, sans-serif' font-weight="bold" font-size="25.65">PD (mfp)</text>
<path d="M743.58,980.5H806.42" stroke="#000" stroke-width="2.8"/>
<rect x="765.12" y="971.6" width="19.76" height="17.8" fill="#ff0000"/>
<text transform="translate(814.75,989.5) scale(1.1102,1)" font-family='"Liberation Sans", Arial, sans-serif' font-weight="bold" font-size="25">0.5</text>
<path d="M743.58,1014.3H806.42" stroke="#000" stroke-width="2.8"/>
<ellipse cx="775" cy="1014.3" rx="10.94" ry="9.85" fill="#00ff00"/>
<text transform="translate(815,1023.3) scale(1.1102,1)" font-family='"Liberation Sans", Arial, sans-serif' font-weight="bold" font-size="25">5</text>
<path d="M743.58,1048.9H806.42" stroke="#000" stroke-width="2.8"/>
<polygon points="775,1035.37 787.99,1055.67 762.01,1055.67" fill="#0000ff"/>
<text transform="translate(814.11,1057.9) scale(1.1102,1)" font-family='"Liberation Sans", Arial, sans-serif' font-weight="bold" font-size="25">10</text>
<path d="M743.58,1083.2H806.42" stroke="#000" stroke-width="2.8"/>
<polygon points="775,1070.8 788.77,1083.2 775,1095.6 761.23,1083.2" fill="#ff00ff"/>
<text transform="translate(814.88,1092.2) scale(1.1102,1)" font-family='"Liberation Sans", Arial, sans-serif' font-weight="bold" font-size="25">20</text>
<path d="M743.58,1117.5H806.42" stroke="#000" stroke-width="2.8"/>
<polygon points="775,1103.2 779.39,1112.06 790.1,1113.08 782.1,1119.58 784.33,1129.07 775,1124.22 765.67,1129.07 767.9,1119.58 759.9,1113.08 770.61,1112.06" fill="#ff8000"/>
<text transform="translate(815.44,1126.5) scale(1.1102,1)" font-family='"Liberation Sans", Arial, sans-serif' font-weight="bold" font-size="25">40</text>
<text transform="translate(775.28,1159.5) scale(1.1102,1)" font-family='"Liberation Sans", Arial, sans-serif' font-weight="bold" font-size="25">(c)</text>
<text transform="translate(429.12,1674.8) scale(1.0500,1)" font-family='"Liberation Serif", serif' font-weight="normal" font-size="42">(c)</text>
</g>
<g id="chart-d">
<clipPath id="clip-d"><rect x="1088.6" y="0" width="895.72" height="1526.45"/></clipPath>
<g clip-path="url(#clip-d)">
<polyline transform="scale(1.1413,1)" points="994.66,1527 1023.63,1527.1 1064.46,1526.8 1093.42,1459.5 1115.89,1463.5 1134.25,1470.1 1163.21,1493.6 1185.68,1511.1 1226.51,1517.6 1255.47,1516.7 1296.3,1513.2 1325.27,1510.2 1347.73,1508.4 1366.09,1508.4 1395.06,1507.6 1417.53,1507.6 1458.35,1510.4 1487.32,1510.7 1528.14,1511.2 1557.11,1512 1579.58,1512 1597.94,1513.4 1626.9,1513.4 1649.37,1514.8 1690.2,1513.4" fill="none" stroke="#000" stroke-width="2.8" stroke-linejoin="round"/>
<rect x="1125.04" y="1518.1" width="20.31" height="17.8" fill="#ff0000"/>
<rect x="1158.1" y="1518.2" width="20.31" height="17.8" fill="#ff0000"/>
<rect x="1204.69" y="1517.9" width="20.31" height="17.8" fill="#ff0000"/>
<rect x="1237.75" y="1450.6" width="20.31" height="17.8" fill="#ff0000"/>
<rect x="1263.39" y="1454.6" width="20.31" height="17.8" fill="#ff0000"/>
<rect x="1284.34" y="1461.2" width="20.31" height="17.8" fill="#ff0000"/>
<rect x="1317.4" y="1484.7" width="20.31" height="17.8" fill="#ff0000"/>
<rect x="1343.04" y="1502.2" width="20.31" height="17.8" fill="#ff0000"/>
<rect x="1389.64" y="1508.7" width="20.31" height="17.8" fill="#ff0000"/>
<rect x="1422.7" y="1507.8" width="20.31" height="17.8" fill="#ff0000"/>
<rect x="1469.29" y="1504.3" width="20.31" height="17.8" fill="#ff0000"/>
<rect x="1502.35" y="1501.3" width="20.31" height="17.8" fill="#ff0000"/>
<rect x="1527.99" y="1499.5" width="20.31" height="17.8" fill="#ff0000"/>
<rect x="1548.94" y="1499.5" width="20.31" height="17.8" fill="#ff0000"/>
<rect x="1582" y="1498.7" width="20.31" height="17.8" fill="#ff0000"/>
<rect x="1607.64" y="1498.7" width="20.31" height="17.8" fill="#ff0000"/>
<rect x="1654.24" y="1501.5" width="20.31" height="17.8" fill="#ff0000"/>
<rect x="1687.3" y="1501.8" width="20.31" height="17.8" fill="#ff0000"/>
<rect x="1733.89" y="1502.3" width="20.31" height="17.8" fill="#ff0000"/>
<rect x="1766.95" y="1503.1" width="20.31" height="17.8" fill="#ff0000"/>
<rect x="1792.59" y="1503.1" width="20.31" height="17.8" fill="#ff0000"/>
<rect x="1813.54" y="1504.5" width="20.31" height="17.8" fill="#ff0000"/>
<rect x="1846.6" y="1504.5" width="20.31" height="17.8" fill="#ff0000"/>
<rect x="1872.24" y="1505.9" width="20.31" height="17.8" fill="#ff0000"/>
<rect x="1918.84" y="1504.5" width="20.31" height="17.8" fill="#ff0000"/>
<polyline transform="scale(1.1413,1)" points="994.66,1527 1023.63,1526.2 1064.46,1525.4 1093.42,1389.6 1115.89,1440.2 1134.25,1448.6 1163.21,1488.1 1185.68,1501.1 1226.51,1502.3 1255.47,1493.7 1296.3,1470.5 1325.27,1450.2 1347.73,1438.7 1366.09,1432.5 1395.06,1425.5 1417.53,1422.8 1458.35,1425.8 1487.32,1426.2 1528.14,1429 1557.11,1435.8 1579.58,1438.5 1597.94,1441.2 1626.9,1441.2 1649.37,1441.2 1690.2,1427.6" fill="none" stroke="#000" stroke-width="2.8" stroke-linejoin="round"/>
<ellipse cx="1135.19" cy="1527" rx="11.24" ry="9.85" fill="#00ff00"/>
<ellipse cx="1168.25" cy="1526.2" rx="11.24" ry="9.85" fill="#00ff00"/>
<ellipse cx="1214.85" cy="1525.4" rx="11.24" ry="9.85" fill="#00ff00"/>
<ellipse cx="1247.91" cy="1389.6" rx="11.24" ry="9.85" fill="#00ff00"/>
<ellipse cx="1273.55" cy="1440.2" rx="11.24" ry="9.85" fill="#00ff00"/>
<ellipse cx="1294.5" cy="1448.6" rx="11.24" ry="9.85" fill="#00ff00"/>
<ellipse cx="1327.56" cy="1488.1" rx="11.24" ry="9.85" fill="#00ff00"/>
<ellipse cx="1353.2" cy="1501.1" rx="11.24" ry="9.85" fill="#00ff00"/>
<ellipse cx="1399.79" cy="1502.3" rx="11.24" ry="9.85" fill="#00ff00"/>
<ellipse cx="1432.85" cy="1493.7" rx="11.24" ry="9.85" fill="#00ff00"/>
<ellipse cx="1479.45" cy="1470.5" rx="11.24" ry="9.85" fill="#00ff00"/>
<ellipse cx="1512.51" cy="1450.2" rx="11.24" ry="9.85" fill="#00ff00"/>
<ellipse cx="1538.15" cy="1438.7" rx="11.24" ry="9.85" fill="#00ff00"/>
<ellipse cx="1559.1" cy="1432.5" rx="11.24" ry="9.85" fill="#00ff00"/>
<ellipse cx="1592.16" cy="1425.5" rx="11.24" ry="9.85" fill="#00ff00"/>
<ellipse cx="1617.8" cy="1422.8" rx="11.24" ry="9.85" fill="#00ff00"/>
<ellipse cx="1664.39" cy="1425.8" rx="11.24" ry="9.85" fill="#00ff00"/>
<ellipse cx="1697.45" cy="1426.2" rx="11.24" ry="9.85" fill="#00ff00"/>
<ellipse cx="1744.05" cy="1429" rx="11.24" ry="9.85" fill="#00ff00"/>
<ellipse cx="1777.11" cy="1435.8" rx="11.24" ry="9.85" fill="#00ff00"/>
<ellipse cx="1802.75" cy="1438.5" rx="11.24" ry="9.85" fill="#00ff00"/>
<ellipse cx="1823.7" cy="1441.2" rx="11.24" ry="9.85" fill="#00ff00"/>
<ellipse cx="1856.76" cy="1441.2" rx="11.24" ry="9.85" fill="#00ff00"/>
<ellipse cx="1882.4" cy="1441.2" rx="11.24" ry="9.85" fill="#00ff00"/>
<ellipse cx="1928.99" cy="1427.6" rx="11.24" ry="9.85" fill="#00ff00"/>
<polyline transform="scale(1.1413,1)" points="994.66,1527 1023.63,1525.2 1064.46,1524 1093.42,1379.8 1115.89,1441.3 1134.25,1436.8 1163.21,1486 1185.68,1495.7 1226.51,1495.7 1255.47,1481.6 1296.3,1450.7 1325.27,1421.6 1347.73,1403 1366.09,1393.9 1395.06,1382.9 1417.53,1378.5 1458.35,1378.2 1487.32,1378.7 1528.14,1380 1557.11,1389.5 1579.58,1393.6 1597.94,1395 1626.9,1393.6 1649.37,1385.4 1690.2,1354.1" fill="none" stroke="#000" stroke-width="2.8" stroke-linejoin="round"/>
<polygon points="1135.19,1513.47 1148.55,1533.77 1121.84,1533.77" fill="#0000ff"/>
<polygon points="1168.25,1511.67 1181.61,1531.97 1154.9,1531.97" fill="#0000ff"/>
<polygon points="1214.85,1510.47 1228.2,1530.77 1201.49,1530.77" fill="#0000ff"/>
<polygon points="1247.91,1366.27 1261.26,1386.57 1234.55,1386.57" fill="#0000ff"/>
<polygon points="1273.55,1427.77 1286.9,1448.07 1260.19,1448.07" fill="#0000ff"/>
<polygon points="1294.5,1423.27 1307.85,1443.57 1281.15,1443.57" fill="#0000ff"/>
<polygon points="1327.56,1472.47 1340.91,1492.77 1314.2,1492.77" fill="#0000ff"/>
<polygon points="1353.2,1482.17 1366.55,1502.47 1339.85,1502.47" fill="#0000ff"/>
<polygon points="1399.79,1482.17 1413.15,1502.47 1386.44,1502.47" fill="#0000ff"/>
<polygon points="1432.85,1468.07 1446.21,1488.37 1419.5,1488.37" fill="#0000ff"/>
<polygon points="1479.45,1437.17 1492.8,1457.47 1466.09,1457.47" fill="#0000ff"/>
<polygon points="1512.51,1408.07 1525.86,1428.37 1499.15,1428.37" fill="#0000ff"/>
<polygon points="1538.15,1389.47 1551.5,1409.77 1524.79,1409.77" fill="#0000ff"/>
<polygon points="1559.1,1380.37 1572.45,1400.67 1545.75,1400.67" fill="#0000ff"/>
<polygon points="1592.16,1369.37 1605.51,1389.67 1578.8,1389.67" fill="#0000ff"/>
<polygon points="1617.8,1364.97 1631.15,1385.27 1604.45,1385.27" fill="#0000ff"/>
<polygon points="1664.39,1364.67 1677.75,1384.97 1651.04,1384.97" fill="#0000ff"/>
<polygon points="1697.45,1365.17 1710.81,1385.47 1684.1,1385.47" fill="#0000ff"/>
<polygon points="1744.05,1366.47 1757.4,1386.77 1730.69,1386.77" fill="#0000ff"/>
<polygon points="1777.11,1375.97 1790.46,1396.27 1763.75,1396.27" fill="#0000ff"/>
<polygon points="1802.75,1380.07 1816.1,1400.37 1789.39,1400.37" fill="#0000ff"/>
<polygon points="1823.7,1381.47 1837.05,1401.77 1810.35,1401.77" fill="#0000ff"/>
<polygon points="1856.76,1380.07 1870.11,1400.37 1843.4,1400.37" fill="#0000ff"/>
<polygon points="1882.4,1371.87 1895.75,1392.17 1869.05,1392.17" fill="#0000ff"/>
<polygon points="1928.99,1340.57 1942.35,1360.87 1915.64,1360.87" fill="#0000ff"/>
<polyline transform="scale(1.1413,1)" points="994.66,1527 1023.63,1524.3 1064.46,1522.5 1093.42,1372.8 1115.89,1441.2 1134.25,1404.3 1163.21,1482.3 1185.68,1486.5 1226.51,1490 1255.47,1465.2 1296.3,1429.9 1325.27,1387.5 1347.73,1361.9 1366.09,1348.6 1395.06,1332.7 1417.53,1326.6 1458.35,1319 1487.32,1318.1 1528.14,1318.1 1557.11,1322.7 1579.58,1320 1597.94,1318.6 1626.9,1303.7 1649.37,1284.6 1690.2,1215.1" fill="none" stroke="#000" stroke-width="2.8" stroke-linejoin="round"/>
<polygon points="1135.19,1514.6 1149.35,1527 1135.19,1539.4 1121.04,1527" fill="#ff00ff"/>
<polygon points="1168.25,1511.9 1182.4,1524.3 1168.25,1536.7 1154.1,1524.3" fill="#ff00ff"/>
<polygon points="1214.85,1510.1 1229,1522.5 1214.85,1534.9 1200.69,1522.5" fill="#ff00ff"/>
<polygon points="1247.91,1360.4 1262.06,1372.8 1247.91,1385.2 1233.75,1372.8" fill="#ff00ff"/>
<polygon points="1273.55,1428.8 1287.7,1441.2 1273.55,1453.6 1259.4,1441.2" fill="#ff00ff"/>
<polygon points="1294.5,1391.9 1308.65,1404.3 1294.5,1416.7 1280.35,1404.3" fill="#ff00ff"/>
<polygon points="1327.56,1469.9 1341.71,1482.3 1327.56,1494.7 1313.41,1482.3" fill="#ff00ff"/>
<polygon points="1353.2,1474.1 1367.35,1486.5 1353.2,1498.9 1339.05,1486.5" fill="#ff00ff"/>
<polygon points="1399.79,1477.6 1413.95,1490 1399.79,1502.4 1385.64,1490" fill="#ff00ff"/>
<polygon points="1432.85,1452.8 1447,1465.2 1432.85,1477.6 1418.7,1465.2" fill="#ff00ff"/>
<polygon points="1479.45,1417.5 1493.6,1429.9 1479.45,1442.3 1465.29,1429.9" fill="#ff00ff"/>
<polygon points="1512.51,1375.1 1526.66,1387.5 1512.51,1399.9 1498.35,1387.5" fill="#ff00ff"/>
<polygon points="1538.15,1349.5 1552.3,1361.9 1538.15,1374.3 1524,1361.9" fill="#ff00ff"/>
<polygon points="1559.1,1336.2 1573.25,1348.6 1559.1,1361 1544.95,1348.6" fill="#ff00ff"/>
<polygon points="1592.16,1320.3 1606.31,1332.7 1592.16,1345.1 1578.01,1332.7" fill="#ff00ff"/>
<polygon points="1617.8,1314.2 1631.95,1326.6 1617.8,1339 1603.65,1326.6" fill="#ff00ff"/>
<polygon points="1664.39,1306.6 1678.55,1319 1664.39,1331.4 1650.24,1319" fill="#ff00ff"/>
<polygon points="1697.45,1305.7 1711.6,1318.1 1697.45,1330.5 1683.3,1318.1" fill="#ff00ff"/>
<polygon points="1744.05,1305.7 1758.2,1318.1 1744.05,1330.5 1729.89,1318.1" fill="#ff00ff"/>
<polygon points="1777.11,1310.3 1791.26,1322.7 1777.11,1335.1 1762.95,1322.7" fill="#ff00ff"/>
<polygon points="1802.75,1307.6 1816.9,1320 1802.75,1332.4 1788.6,1320" fill="#ff00ff"/>
<polygon points="1823.7,1306.2 1837.85,1318.6 1823.7,1331 1809.55,1318.6" fill="#ff00ff"/>
<polygon points="1856.76,1291.3 1870.91,1303.7 1856.76,1316.1 1842.61,1303.7" fill="#ff00ff"/>
<polygon points="1882.4,1272.2 1896.55,1284.6 1882.4,1297 1868.25,1284.6" fill="#ff00ff"/>
<polygon points="1928.99,1202.7 1943.15,1215.1 1928.99,1227.5 1914.84,1215.1" fill="#ff00ff"/>
<polyline transform="scale(1.1413,1)" points="994.66,1526.4 1023.63,1523.3 1064.46,1521.1 1093.42,1366.2 1115.89,1443.3 1134.25,1114.8 1163.21,1479.1 1185.68,1467.5 1226.51,1475.8 1255.47,1449.3 1296.3,1407.8 1325.27,1353.9 1347.73,1318.6 1366.09,1303.6 1395.06,1281.5 1417.53,1274.5 1458.35,1259.8 1487.32,1256 1528.14,1253.3 1557.11,1249.2 1579.58,1236.9 1597.94,1222 1626.9,1177 1649.37,1125.2 1690.2,965.8" fill="none" stroke="#000" stroke-width="2.8" stroke-linejoin="round"/>
<polygon points="1135.19,1512.1 1139.7,1520.96 1150.72,1521.98 1142.49,1528.48 1144.79,1537.97 1135.19,1533.12 1125.6,1537.97 1127.9,1528.48 1119.67,1521.98 1130.69,1520.96" fill="#ff8000"/>
<polygon points="1168.25,1509 1172.76,1517.86 1183.77,1518.88 1175.55,1525.38 1177.85,1534.87 1168.25,1530.02 1158.66,1534.87 1160.96,1525.38 1152.73,1518.88 1163.74,1517.86" fill="#ff8000"/>
<polygon points="1214.85,1506.8 1219.35,1515.66 1230.37,1516.68 1222.14,1523.18 1224.44,1532.67 1214.85,1527.82 1205.25,1532.67 1207.55,1523.18 1199.32,1516.68 1210.34,1515.66" fill="#ff8000"/>
<polygon points="1247.91,1351.9 1252.41,1360.76 1263.43,1361.78 1255.2,1368.28 1257.5,1377.77 1247.91,1372.92 1238.31,1377.77 1240.61,1368.28 1232.38,1361.78 1243.4,1360.76" fill="#ff8000"/>
<polygon points="1273.55,1429 1278.06,1437.86 1289.07,1438.88 1280.84,1445.38 1283.14,1454.87 1273.55,1450.02 1263.95,1454.87 1266.25,1445.38 1258.03,1438.88 1269.04,1437.86" fill="#ff8000"/>
<polygon points="1294.5,1100.5 1299.01,1109.36 1310.02,1110.38 1301.79,1116.88 1304.09,1126.37 1294.5,1121.52 1284.91,1126.37 1287.2,1116.88 1278.98,1110.38 1289.99,1109.36" fill="#ff8000"/>
<polygon points="1327.56,1464.8 1332.07,1473.66 1343.08,1474.68 1334.85,1481.18 1337.15,1490.67 1327.56,1485.82 1317.96,1490.67 1320.26,1481.18 1312.04,1474.68 1323.05,1473.66" fill="#ff8000"/>
<polygon points="1353.2,1453.2 1357.71,1462.06 1368.72,1463.08 1360.5,1469.58 1362.79,1479.07 1353.2,1474.22 1343.61,1479.07 1345.9,1469.58 1337.68,1463.08 1348.69,1462.06" fill="#ff8000"/>
<polygon points="1399.79,1461.5 1404.3,1470.36 1415.32,1471.38 1407.09,1477.88 1409.39,1487.37 1399.79,1482.52 1390.2,1487.37 1392.5,1477.88 1384.27,1471.38 1395.29,1470.36" fill="#ff8000"/>
<polygon points="1432.85,1435 1437.36,1443.86 1448.37,1444.88 1440.15,1451.38 1442.45,1460.87 1432.85,1456.02 1423.26,1460.87 1425.56,1451.38 1417.33,1444.88 1428.34,1443.86" fill="#ff8000"/>
<polygon points="1479.45,1393.5 1483.95,1402.36 1494.97,1403.38 1486.74,1409.88 1489.04,1419.37 1479.45,1414.52 1469.85,1419.37 1472.15,1409.88 1463.92,1403.38 1474.94,1402.36" fill="#ff8000"/>
<polygon points="1512.51,1339.6 1517.01,1348.46 1528.03,1349.48 1519.8,1355.98 1522.1,1365.47 1512.51,1360.62 1502.91,1365.47 1505.21,1355.98 1496.98,1349.48 1508,1348.46" fill="#ff8000"/>
<polygon points="1538.15,1304.3 1542.66,1313.16 1553.67,1314.18 1545.44,1320.68 1547.74,1330.17 1538.15,1325.32 1528.55,1330.17 1530.85,1320.68 1522.63,1314.18 1533.64,1313.16" fill="#ff8000"/>
<polygon points="1559.1,1289.3 1563.61,1298.16 1574.62,1299.18 1566.39,1305.68 1568.69,1315.17 1559.1,1310.32 1549.51,1315.17 1551.8,1305.68 1543.58,1299.18 1554.59,1298.16" fill="#ff8000"/>
<polygon points="1592.16,1267.2 1596.67,1276.06 1607.68,1277.08 1599.45,1283.58 1601.75,1293.07 1592.16,1288.22 1582.56,1293.07 1584.86,1283.58 1576.64,1277.08 1587.65,1276.06" fill="#ff8000"/>
<polygon points="1617.8,1260.2 1622.31,1269.06 1633.32,1270.08 1625.1,1276.58 1627.39,1286.07 1617.8,1281.22 1608.21,1286.07 1610.5,1276.58 1602.28,1270.08 1613.29,1269.06" fill="#ff8000"/>
<polygon points="1664.39,1245.5 1668.9,1254.36 1679.92,1255.38 1671.69,1261.88 1673.99,1271.37 1664.39,1266.52 1654.8,1271.37 1657.1,1261.88 1648.87,1255.38 1659.89,1254.36" fill="#ff8000"/>
<polygon points="1697.45,1241.7 1701.96,1250.56 1712.97,1251.58 1704.75,1258.08 1707.05,1267.57 1697.45,1262.72 1687.86,1267.57 1690.16,1258.08 1681.93,1251.58 1692.94,1250.56" fill="#ff8000"/>
<polygon points="1744.05,1239 1748.55,1247.86 1759.57,1248.88 1751.34,1255.38 1753.64,1264.87 1744.05,1260.02 1734.45,1264.87 1736.75,1255.38 1728.52,1248.88 1739.54,1247.86" fill="#ff8000"/>
<polygon points="1777.11,1234.9 1781.61,1243.76 1792.63,1244.78 1784.4,1251.28 1786.7,1260.77 1777.11,1255.92 1767.51,1260.77 1769.81,1251.28 1761.58,1244.78 1772.6,1243.76" fill="#ff8000"/>
<polygon points="1802.75,1222.6 1807.26,1231.46 1818.27,1232.48 1810.04,1238.98 1812.34,1248.47 1802.75,1243.62 1793.15,1248.47 1795.45,1238.98 1787.23,1232.48 1798.24,1231.46" fill="#ff8000"/>
<polygon points="1823.7,1207.7 1828.21,1216.56 1839.22,1217.58 1830.99,1224.08 1833.29,1233.57 1823.7,1228.72 1814.11,1233.57 1816.4,1224.08 1808.18,1217.58 1819.19,1216.56" fill="#ff8000"/>
<polygon points="1856.76,1162.7 1861.27,1171.56 1872.28,1172.58 1864.05,1179.08 1866.35,1188.57 1856.76,1183.72 1847.16,1188.57 1849.46,1179.08 1841.24,1172.58 1852.25,1171.56" fill="#ff8000"/>
<polygon points="1882.4,1110.9 1886.91,1119.76 1897.92,1120.78 1889.7,1127.28 1891.99,1136.77 1882.4,1131.92 1872.81,1136.77 1875.1,1127.28 1866.88,1120.78 1877.89,1119.76" fill="#ff8000"/>
<polygon points="1928.99,951.5 1933.5,960.36 1944.52,961.38 1936.29,967.88 1938.59,977.37 1928.99,972.52 1919.4,977.37 1921.7,967.88 1913.47,961.38 1924.49,960.36" fill="#ff8000"/>
</g>
<path d="M1088.6,892.7V1527.7M1075.8,1527.7H1944.32M1075.8,1527.7H1088.6M1081.99,1479.91H1088.6M1081.99,1451.96H1088.6M1081.99,1432.12H1088.6M1081.99,1416.74H1088.6M1081.99,1404.17H1088.6M1081.99,1393.54H1088.6M1081.99,1384.33H1088.6M1081.99,1376.21H1088.6M1075.8,1368.95H1088.6M1081.99,1321.16H1088.6M1081.99,1293.21H1088.6M1081.99,1273.37H1088.6M1081.99,1257.99H1088.6M1081.99,1245.42H1088.6M1081.99,1234.79H1088.6M1081.99,1225.58H1088.6M1081.99,1217.46H1088.6M1075.8,1210.2H1088.6M1081.99,1162.41H1088.6M1081.99,1134.46H1088.6M1081.99,1114.62H1088.6M1081.99,1099.24H1088.6M1081.99,1086.67H1088.6M1081.99,1076.04H1088.6M1081.99,1066.83H1088.6M1081.99,1058.71H1088.6M1075.8,1051.45H1088.6M1081.99,1003.66H1088.6M1081.99,975.71H1088.6M1081.99,955.87H1088.6M1081.99,940.49H1088.6M1081.99,927.92H1088.6M1081.99,917.29H1088.6M1081.99,908.08H1088.6M1081.99,899.96H1088.6M1075.8,892.7H1088.6M1088.6,1527.7V1539.4M1168.25,1527.7V1533.7M1214.85,1527.7V1533.7M1247.91,1527.7V1533.7M1273.55,1527.7V1533.7M1294.5,1527.7V1533.7M1312.21,1527.7V1533.7M1327.56,1527.7V1533.7M1341.09,1527.7V1533.7M1353.2,1527.7V1539.4M1432.85,1527.7V1533.7M1479.45,1527.7V1533.7M1512.51,1527.7V1533.7M1538.15,1527.7V1533.7M1559.1,1527.7V1533.7M1576.81,1527.7V1533.7M1592.16,1527.7V1533.7M1605.69,1527.7V1533.7M1617.8,1527.7V1539.4M1697.45,1527.7V1533.7M1744.05,1527.7V1533.7M1777.11,1527.7V1533.7M1802.75,1527.7V1533.7M1823.7,1527.7V1533.7M1841.41,1527.7V1533.7M1856.76,1527.7V1533.7M1870.29,1527.7V1533.7M1882.4,1527.7V1539.4" stroke="#000" stroke-width="2.5" fill="none"/>
<text transform="translate(1022.82,1537.6) scale(1.1413,1)" font-family='"Liberation Sans", Arial, sans-serif' font-weight="bold" font-size="26">10</text>
<text transform="translate(1055.43,1525.8) scale(1.1413,1)" font-family='"Liberation Sans", Arial, sans-serif' font-weight="bold" font-size="16.5">0</text>
<text transform="translate(1022.82,1378.85) scale(1.1413,1)" font-family='"Liberation Sans", Arial, sans-serif' font-weight="bold" font-size="26">10</text>
<text transform="translate(1055,1367.05) scale(1.1413,1)" font-family='"Liberation Sans", Arial, sans-serif' font-weight="bold" font-size="16.5">1</text>
<text transform="translate(1022.82,1220.1) scale(1.1413,1)" font-family='"Liberation Sans", Arial, sans-serif' font-weight="bold" font-size="26">10</text>
<text transform="translate(1055.53,1208.3) scale(1.1413,1)" font-family='"Liberation Sans", Arial, sans-serif' font-weight="bold" font-size="16.5">2</text>
<text transform="translate(1022.82,1061.35) scale(1.1413,1)" font-family='"Liberation Sans", Arial, sans-serif' font-weight="bold" font-size="26">10</text>
<text transform="translate(1055.75,1049.55) scale(1.1413,1)" font-family='"Liberation Sans", Arial, sans-serif' font-weight="bold" font-size="16.5">3</text>
<text transform="translate(1022.82,902.6) scale(1.1413,1)" font-family='"Liberation Sans", Arial, sans-serif' font-weight="bold" font-size="26">10</text>
<text transform="translate(1055.91,890.8) scale(1.1413,1)" font-family='"Liberation Sans", Arial, sans-serif' font-weight="bold" font-size="16.5">4</text>
<text transform="translate(1061.56,1568.7) scale(1.1413,1)" font-family='"Liberation Sans", Arial, sans-serif' font-weight="bold" font-size="24.2">0.01</text>
<text transform="translate(1333.84,1568.7) scale(1.1413,1)" font-family='"Liberation Sans", Arial, sans-serif' font-weight="bold" font-size="24.2">0.1</text>
<text transform="translate(1609.64,1568.7) scale(1.1413,1)" font-family='"Liberation Sans", Arial, sans-serif' font-weight="bold" font-size="24.2">1</text>
<text transform="translate(1866.74,1568.7) scale(1.1413,1)" font-family='"Liberation Sans", Arial, sans-serif' font-weight="bold" font-size="24.2">10</text>
<text transform="translate(1337.53,1623.1) scale(1.1413,1)" font-family='"Liberation Sans", Arial, sans-serif' font-weight="bold" font-size="31.3">Photon energy (MeV)</text>
<text transform="translate(1007.8,1241.97) scale(1.1413,1) rotate(-90)" font-family='"Liberation Sans", Arial, sans-serif' font-weight="bold" font-size="31.3">EBF</text>
<text transform="translate(1107.04,923) scale(1.1413,1)" font-family='"Liberation Sans", Arial, sans-serif' font-weight="bold" font-size="25">3.5Pb</text>
<text transform="translate(1739.88,960.5) scale(1.1413,1)" font-family='"Liberation Sans", Arial, sans-serif' font-weight="bold" font-size="25.65">PD (mfp)</text>
<path d="M1740.7,985H1805.3" stroke="#000" stroke-width="2.8"/>
<rect x="1762.84" y="976.1" width="20.31" height="17.8" fill="#ff0000"/>
<text transform="translate(1813.86,994) scale(1.1413,1)" font-family='"Liberation Sans", Arial, sans-serif' font-weight="bold" font-size="25">0.5</text>
<path d="M1740.7,1019.5H1805.3" stroke="#000" stroke-width="2.8"/>
<ellipse cx="1773" cy="1019.5" rx="11.24" ry="9.85" fill="#00ff00"/>
<text transform="translate(1814.11,1028.5) scale(1.1413,1)" font-family='"Liberation Sans", Arial, sans-serif' font-weight="bold" font-size="25">5</text>
<path d="M1740.7,1053.6H1805.3" stroke="#000" stroke-width="2.8"/>
<polygon points="1773,1040.07 1786.35,1060.37 1759.65,1060.37" fill="#0000ff"/>
<text transform="translate(1813.2,1062.6) scale(1.1413,1)" font-family='"Liberation Sans", Arial, sans-serif' font-weight="bold" font-size="25">10</text>
<path d="M1740.7,1087.9H1805.3" stroke="#000" stroke-width="2.8"/>
<polygon points="1773,1075.5 1787.15,1087.9 1773,1100.3 1758.85,1087.9" fill="#ff00ff"/>
<text transform="translate(1814,1096.9) scale(1.1413,1)" font-family='"Liberation Sans", Arial, sans-serif' font-weight="bold" font-size="25">20</text>
<path d="M1740.7,1122H1805.3" stroke="#000" stroke-width="2.8"/>
<polygon points="1773,1107.7 1777.51,1116.56 1788.52,1117.58 1780.3,1124.08 1782.59,1133.57 1773,1128.72 1763.41,1133.57 1765.7,1124.08 1757.48,1117.58 1768.49,1116.56" fill="#ff8000"/>
<text transform="translate(1814.57,1131) scale(1.1413,1)" font-family='"Liberation Sans", Arial, sans-serif' font-weight="bold" font-size="25">40</text>
<text transform="translate(1773.29,1164) scale(1.1413,1)" font-family='"Liberation Sans", Arial, sans-serif' font-weight="bold" font-size="25">(d)</text>
<text transform="translate(1386.69,1674.8) scale(1.0500,1)" font-family='"Liberation Serif", serif' font-weight="normal" font-size="42">(d)</text>
</g>
<g id="chart-e">
<clipPath id="clip-e"><rect x="553.3" y="0" width="913.5" height="2335.55"/></clipPath>
<g clip-path="url(#clip-e)">
<polyline transform="scale(1.1650,1)" points="515.76,2336.5 544.72,2336.5 585.55,2336.1 614.52,2269.5 636.98,2273.8 655.34,2280.3 684.31,2303.6 706.78,2319.8 747.6,2327.9 776.57,2327.6 817.39,2323.2 846.36,2320.5 868.83,2318.7 887.19,2317.9 916.15,2317 938.62,2317 979.45,2320.2 1008.41,2320.7 1049.24,2321.2 1078.21,2322 1100.67,2322 1119.03,2322.6 1148,2322 1170.47,2323.4 1211.29,2322" fill="none" stroke="#000" stroke-width="2.8" stroke-linejoin="round"/>
<rect x="590.49" y="2327.6" width="20.74" height="17.8" fill="#ff0000"/>
<rect x="624.24" y="2327.6" width="20.74" height="17.8" fill="#ff0000"/>
<rect x="671.8" y="2327.2" width="20.74" height="17.8" fill="#ff0000"/>
<rect x="705.55" y="2260.6" width="20.74" height="17.8" fill="#ff0000"/>
<rect x="731.72" y="2264.9" width="20.74" height="17.8" fill="#ff0000"/>
<rect x="753.11" y="2271.4" width="20.74" height="17.8" fill="#ff0000"/>
<rect x="786.86" y="2294.7" width="20.74" height="17.8" fill="#ff0000"/>
<rect x="813.03" y="2310.9" width="20.74" height="17.8" fill="#ff0000"/>
<rect x="860.59" y="2319" width="20.74" height="17.8" fill="#ff0000"/>
<rect x="894.34" y="2318.7" width="20.74" height="17.8" fill="#ff0000"/>
<rect x="941.9" y="2314.3" width="20.74" height="17.8" fill="#ff0000"/>
<rect x="975.65" y="2311.6" width="20.74" height="17.8" fill="#ff0000"/>
<rect x="1001.82" y="2309.8" width="20.74" height="17.8" fill="#ff0000"/>
<rect x="1023.21" y="2309" width="20.74" height="17.8" fill="#ff0000"/>
<rect x="1056.96" y="2308.1" width="20.74" height="17.8" fill="#ff0000"/>
<rect x="1083.13" y="2308.1" width="20.74" height="17.8" fill="#ff0000"/>
<rect x="1130.69" y="2311.3" width="20.74" height="17.8" fill="#ff0000"/>
<rect x="1164.44" y="2311.8" width="20.74" height="17.8" fill="#ff0000"/>
<rect x="1212" y="2312.3" width="20.74" height="17.8" fill="#ff0000"/>
<rect x="1245.75" y="2313.1" width="20.74" height="17.8" fill="#ff0000"/>
<rect x="1271.92" y="2313.1" width="20.74" height="17.8" fill="#ff0000"/>
<rect x="1293.31" y="2313.7" width="20.74" height="17.8" fill="#ff0000"/>
<rect x="1327.06" y="2313.1" width="20.74" height="17.8" fill="#ff0000"/>
<rect x="1353.23" y="2314.5" width="20.74" height="17.8" fill="#ff0000"/>
<rect x="1400.79" y="2313.1" width="20.74" height="17.8" fill="#ff0000"/>
<polyline transform="scale(1.1650,1)" points="515.76,2336.5 544.72,2335.9 585.55,2334.8 614.52,2202.3 636.98,2252.4 655.34,2260.9 684.31,2297.4 706.78,2311 747.6,2312.3 776.57,2304.5 817.39,2282.5 846.36,2263.1 868.83,2251.6 887.19,2245.5 916.15,2237.5 938.62,2234.9 979.45,2237.1 1008.41,2237.6 1049.24,2240.3 1078.21,2247.1 1100.67,2249.9 1119.03,2252.6 1148,2252.6 1170.47,2251.2 1211.29,2237.6" fill="none" stroke="#000" stroke-width="2.8" stroke-linejoin="round"/>
<ellipse cx="600.86" cy="2336.5" rx="11.48" ry="9.85" fill="#00ff00"/>
<ellipse cx="634.61" cy="2335.9" rx="11.48" ry="9.85" fill="#00ff00"/>
<ellipse cx="682.17" cy="2334.8" rx="11.48" ry="9.85" fill="#00ff00"/>
<ellipse cx="715.92" cy="2202.3" rx="11.48" ry="9.85" fill="#00ff00"/>
<ellipse cx="742.09" cy="2252.4" rx="11.48" ry="9.85" fill="#00ff00"/>
<ellipse cx="763.48" cy="2260.9" rx="11.48" ry="9.85" fill="#00ff00"/>
<ellipse cx="797.22" cy="2297.4" rx="11.48" ry="9.85" fill="#00ff00"/>
<ellipse cx="823.4" cy="2311" rx="11.48" ry="9.85" fill="#00ff00"/>
<ellipse cx="870.96" cy="2312.3" rx="11.48" ry="9.85" fill="#00ff00"/>
<ellipse cx="904.71" cy="2304.5" rx="11.48" ry="9.85" fill="#00ff00"/>
<ellipse cx="952.27" cy="2282.5" rx="11.48" ry="9.85" fill="#00ff00"/>
<ellipse cx="986.02" cy="2263.1" rx="11.48" ry="9.85" fill="#00ff00"/>
<ellipse cx="1012.19" cy="2251.6" rx="11.48" ry="9.85" fill="#00ff00"/>
<ellipse cx="1033.58" cy="2245.5" rx="11.48" ry="9.85" fill="#00ff00"/>
<ellipse cx="1067.32" cy="2237.5" rx="11.48" ry="9.85" fill="#00ff00"/>
<ellipse cx="1093.5" cy="2234.9" rx="11.48" ry="9.85" fill="#00ff00"/>
<ellipse cx="1141.06" cy="2237.1" rx="11.48" ry="9.85" fill="#00ff00"/>
<ellipse cx="1174.81" cy="2237.6" rx="11.48" ry="9.85" fill="#00ff00"/>
<ellipse cx="1222.37" cy="2240.3" rx="11.48" ry="9.85" fill="#00ff00"/>
<ellipse cx="1256.12" cy="2247.1" rx="11.48" ry="9.85" fill="#00ff00"/>
<ellipse cx="1282.29" cy="2249.9" rx="11.48" ry="9.85" fill="#00ff00"/>
<ellipse cx="1303.68" cy="2252.6" rx="11.48" ry="9.85" fill="#00ff00"/>
<ellipse cx="1337.42" cy="2252.6" rx="11.48" ry="9.85" fill="#00ff00"/>
<ellipse cx="1363.6" cy="2251.2" rx="11.48" ry="9.85" fill="#00ff00"/>
<ellipse cx="1411.16" cy="2237.6" rx="11.48" ry="9.85" fill="#00ff00"/>
<polyline transform="scale(1.1650,1)" points="515.76,2336.5 544.72,2335.3 585.55,2333.6 614.52,2193.7 636.98,2253.4 655.34,2248.1 684.31,2296 706.78,2307 747.6,2307 776.57,2291.5 817.39,2265.4 846.36,2234.5 868.83,2216.8 887.19,2208.1 916.15,2196.8 938.62,2192.7 979.45,2191.2 1008.41,2190.1 1049.24,2191.3 1078.21,2199.5 1100.67,2203.6 1119.03,2206.3 1148,2203.6 1170.47,2195.4 1211.29,2162.7" fill="none" stroke="#000" stroke-width="2.8" stroke-linejoin="round"/>
<polygon points="600.86,2322.97 614.49,2343.27 587.23,2343.27" fill="#0000ff"/>
<polygon points="634.61,2321.77 648.24,2342.07 620.98,2342.07" fill="#0000ff"/>
<polygon points="682.17,2320.07 695.8,2340.37 668.54,2340.37" fill="#0000ff"/>
<polygon points="715.92,2180.17 729.55,2200.47 702.29,2200.47" fill="#0000ff"/>
<polygon points="742.09,2239.87 755.72,2260.17 728.46,2260.17" fill="#0000ff"/>
<polygon points="763.48,2234.57 777.11,2254.87 749.85,2254.87" fill="#0000ff"/>
<polygon points="797.22,2282.47 810.86,2302.77 783.59,2302.77" fill="#0000ff"/>
<polygon points="823.4,2293.47 837.03,2313.77 809.77,2313.77" fill="#0000ff"/>
<polygon points="870.96,2293.47 884.59,2313.77 857.33,2313.77" fill="#0000ff"/>
<polygon points="904.71,2277.97 918.34,2298.27 891.08,2298.27" fill="#0000ff"/>
<polygon points="952.27,2251.87 965.9,2272.17 938.64,2272.17" fill="#0000ff"/>
<polygon points="986.02,2220.97 999.65,2241.27 972.39,2241.27" fill="#0000ff"/>
<polygon points="1012.19,2203.27 1025.82,2223.57 998.56,2223.57" fill="#0000ff"/>
<polygon points="1033.58,2194.57 1047.21,2214.87 1019.95,2214.87" fill="#0000ff"/>
<polygon points="1067.32,2183.27 1080.96,2203.57 1053.69,2203.57" fill="#0000ff"/>
<polygon points="1093.5,2179.17 1107.13,2199.47 1079.87,2199.47" fill="#0000ff"/>
<polygon points="1141.06,2177.67 1154.69,2197.97 1127.43,2197.97" fill="#0000ff"/>
<polygon points="1174.81,2176.57 1188.44,2196.87 1161.18,2196.87" fill="#0000ff"/>
<polygon points="1222.37,2177.77 1236,2198.07 1208.74,2198.07" fill="#0000ff"/>
<polygon points="1256.12,2185.97 1269.75,2206.27 1242.49,2206.27" fill="#0000ff"/>
<polygon points="1282.29,2190.07 1295.92,2210.37 1268.66,2210.37" fill="#0000ff"/>
<polygon points="1303.68,2192.77 1317.31,2213.07 1290.05,2213.07" fill="#0000ff"/>
<polygon points="1337.42,2190.07 1351.06,2210.37 1323.79,2210.37" fill="#0000ff"/>
<polygon points="1363.6,2181.87 1377.23,2202.17 1349.97,2202.17" fill="#0000ff"/>
<polygon points="1411.16,2149.17 1424.79,2169.47 1397.53,2169.47" fill="#0000ff"/>
<polyline transform="scale(1.1650,1)" points="515.76,2336.5 544.72,2334.8 585.55,2332.3 614.52,2187.7 636.98,2254.4 655.34,2215 684.31,2292.3 706.78,2298.8 747.6,2298.2 776.57,2280.5 817.39,2244.6 846.36,2203.1 868.83,2177.5 887.19,2164.2 916.15,2148.3 938.62,2141.3 979.45,2133 1008.41,2131.4 1049.24,2131.4 1078.21,2134.1 1100.67,2132.7 1119.03,2130 1148,2115 1170.47,2096 1211.29,2025.1" fill="none" stroke="#000" stroke-width="2.8" stroke-linejoin="round"/>
<polygon points="600.86,2324.1 615.31,2336.5 600.86,2348.9 586.42,2336.5" fill="#ff00ff"/>
<polygon points="634.61,2322.4 649.05,2334.8 634.61,2347.2 620.16,2334.8" fill="#ff00ff"/>
<polygon points="682.17,2319.9 696.62,2332.3 682.17,2344.7 667.72,2332.3" fill="#ff00ff"/>
<polygon points="715.92,2175.3 730.36,2187.7 715.92,2200.1 701.47,2187.7" fill="#ff00ff"/>
<polygon points="742.09,2242 756.54,2254.4 742.09,2266.8 727.65,2254.4" fill="#ff00ff"/>
<polygon points="763.48,2202.6 777.92,2215 763.48,2227.4 749.03,2215" fill="#ff00ff"/>
<polygon points="797.22,2279.9 811.67,2292.3 797.22,2304.7 782.78,2292.3" fill="#ff00ff"/>
<polygon points="823.4,2286.4 837.85,2298.8 823.4,2311.2 808.95,2298.8" fill="#ff00ff"/>
<polygon points="870.96,2285.8 885.41,2298.2 870.96,2310.6 856.52,2298.2" fill="#ff00ff"/>
<polygon points="904.71,2268.1 919.15,2280.5 904.71,2292.9 890.26,2280.5" fill="#ff00ff"/>
<polygon points="952.27,2232.2 966.72,2244.6 952.27,2257 937.82,2244.6" fill="#ff00ff"/>
<polygon points="986.02,2190.7 1000.46,2203.1 986.02,2215.5 971.57,2203.1" fill="#ff00ff"/>
<polygon points="1012.19,2165.1 1026.64,2177.5 1012.19,2189.9 997.75,2177.5" fill="#ff00ff"/>
<polygon points="1033.58,2151.8 1048.02,2164.2 1033.58,2176.6 1019.13,2164.2" fill="#ff00ff"/>
<polygon points="1067.32,2135.9 1081.77,2148.3 1067.32,2160.7 1052.88,2148.3" fill="#ff00ff"/>
<polygon points="1093.5,2128.9 1107.95,2141.3 1093.5,2153.7 1079.05,2141.3" fill="#ff00ff"/>
<polygon points="1141.06,2120.6 1155.51,2133 1141.06,2145.4 1126.62,2133" fill="#ff00ff"/>
<polygon points="1174.81,2119 1189.25,2131.4 1174.81,2143.8 1160.36,2131.4" fill="#ff00ff"/>
<polygon points="1222.37,2119 1236.82,2131.4 1222.37,2143.8 1207.92,2131.4" fill="#ff00ff"/>
<polygon points="1256.12,2121.7 1270.56,2134.1 1256.12,2146.5 1241.67,2134.1" fill="#ff00ff"/>
<polygon points="1282.29,2120.3 1296.74,2132.7 1282.29,2145.1 1267.85,2132.7" fill="#ff00ff"/>
<polygon points="1303.68,2117.6 1318.12,2130 1303.68,2142.4 1289.23,2130" fill="#ff00ff"/>
<polygon points="1337.42,2102.6 1351.87,2115 1337.42,2127.4 1322.98,2115" fill="#ff00ff"/>
<polygon points="1363.6,2083.6 1378.05,2096 1363.6,2108.4 1349.15,2096" fill="#ff00ff"/>
<polygon points="1411.16,2012.7 1425.61,2025.1 1411.16,2037.5 1396.72,2025.1" fill="#ff00ff"/>
<polyline transform="scale(1.1650,1)" points="515.76,2335.9 544.72,2334.2 585.55,2331.1 614.52,2181.8 636.98,2253.8 655.34,1896.1 684.31,2288.9 706.78,2287.8 747.6,2288.2 776.57,2264 817.39,2223.4 846.36,2170.4 868.83,2136.9 887.19,2121 916.15,2099.8 938.62,2090.9 979.45,2074.4 1008.41,2070.1 1049.24,2066.1 1078.21,2062 1100.67,2049.7 1119.03,2034.7 1148,1988.4 1170.47,1936.7 1211.29,1777.3" fill="none" stroke="#000" stroke-width="2.8" stroke-linejoin="round"/>
<polygon points="600.86,2321.6 605.46,2330.46 616.71,2331.48 608.31,2337.98 610.65,2347.47 600.86,2342.62 591.07,2347.47 593.42,2337.98 585.02,2331.48 596.26,2330.46" fill="#ff8000"/>
<polygon points="634.61,2319.9 639.21,2328.76 650.45,2329.78 642.05,2336.28 644.4,2345.77 634.61,2340.92 624.82,2345.77 627.16,2336.28 618.76,2329.78 630.01,2328.76" fill="#ff8000"/>
<polygon points="682.17,2316.8 686.77,2325.66 698.01,2326.68 689.62,2333.18 691.96,2342.67 682.17,2337.82 672.38,2342.67 674.72,2333.18 666.33,2326.68 677.57,2325.66" fill="#ff8000"/>
<polygon points="715.92,2167.5 720.52,2176.36 731.76,2177.38 723.36,2183.88 725.71,2193.37 715.92,2188.52 706.12,2193.37 708.47,2183.88 700.07,2177.38 711.31,2176.36" fill="#ff8000"/>
<polygon points="742.09,2239.5 746.69,2248.36 757.94,2249.38 749.54,2255.88 751.88,2265.37 742.09,2260.52 732.3,2265.37 734.65,2255.88 726.25,2249.38 737.49,2248.36" fill="#ff8000"/>
<polygon points="763.48,1881.8 768.08,1890.66 779.32,1891.68 770.93,1898.18 773.27,1907.67 763.48,1902.82 753.69,1907.67 756.03,1898.18 747.63,1891.68 758.88,1890.66" fill="#ff8000"/>
<polygon points="797.22,2274.6 801.83,2283.46 813.07,2284.48 804.67,2290.98 807.02,2300.47 797.22,2295.62 787.43,2300.47 789.78,2290.98 781.38,2284.48 792.62,2283.46" fill="#ff8000"/>
<polygon points="823.4,2273.5 828,2282.36 839.24,2283.38 830.85,2289.88 833.19,2299.37 823.4,2294.52 813.61,2299.37 815.95,2289.88 807.56,2283.38 818.8,2282.36" fill="#ff8000"/>
<polygon points="870.96,2273.9 875.56,2282.76 886.81,2283.78 878.41,2290.28 880.75,2299.77 870.96,2294.92 861.17,2299.77 863.52,2290.28 855.12,2283.78 866.36,2282.76" fill="#ff8000"/>
<polygon points="904.71,2249.7 909.31,2258.56 920.55,2259.58 912.15,2266.08 914.5,2275.57 904.71,2270.72 894.92,2275.57 897.26,2266.08 888.86,2259.58 900.11,2258.56" fill="#ff8000"/>
<polygon points="952.27,2209.1 956.87,2217.96 968.11,2218.98 959.72,2225.48 962.06,2234.97 952.27,2230.12 942.48,2234.97 944.82,2225.48 936.43,2218.98 947.67,2217.96" fill="#ff8000"/>
<polygon points="986.02,2156.1 990.62,2164.96 1001.86,2165.98 993.46,2172.48 995.81,2181.97 986.02,2177.12 976.22,2181.97 978.57,2172.48 970.17,2165.98 981.41,2164.96" fill="#ff8000"/>
<polygon points="1012.19,2122.6 1016.79,2131.46 1028.04,2132.48 1019.64,2138.98 1021.98,2148.47 1012.19,2143.62 1002.4,2148.47 1004.75,2138.98 996.35,2132.48 1007.59,2131.46" fill="#ff8000"/>
<polygon points="1033.58,2106.7 1038.18,2115.56 1049.42,2116.58 1041.03,2123.08 1043.37,2132.57 1033.58,2127.72 1023.79,2132.57 1026.13,2123.08 1017.73,2116.58 1028.98,2115.56" fill="#ff8000"/>
<polygon points="1067.32,2085.5 1071.93,2094.36 1083.17,2095.38 1074.77,2101.88 1077.12,2111.37 1067.32,2106.52 1057.53,2111.37 1059.88,2101.88 1051.48,2095.38 1062.72,2094.36" fill="#ff8000"/>
<polygon points="1093.5,2076.6 1098.1,2085.46 1109.34,2086.48 1100.95,2092.98 1103.29,2102.47 1093.5,2097.62 1083.71,2102.47 1086.05,2092.98 1077.66,2086.48 1088.9,2085.46" fill="#ff8000"/>
<polygon points="1141.06,2060.1 1145.66,2068.96 1156.91,2069.98 1148.51,2076.48 1150.85,2085.97 1141.06,2081.12 1131.27,2085.97 1133.62,2076.48 1125.22,2069.98 1136.46,2068.96" fill="#ff8000"/>
<polygon points="1174.81,2055.8 1179.41,2064.66 1190.65,2065.68 1182.25,2072.18 1184.6,2081.67 1174.81,2076.82 1165.02,2081.67 1167.36,2072.18 1158.96,2065.68 1170.21,2064.66" fill="#ff8000"/>
<polygon points="1222.37,2051.8 1226.97,2060.66 1238.21,2061.68 1229.82,2068.18 1232.16,2077.67 1222.37,2072.82 1212.58,2077.67 1214.92,2068.18 1206.53,2061.68 1217.77,2060.66" fill="#ff8000"/>
<polygon points="1256.12,2047.7 1260.72,2056.56 1271.96,2057.58 1263.56,2064.08 1265.91,2073.57 1256.12,2068.72 1246.32,2073.57 1248.67,2064.08 1240.27,2057.58 1251.51,2056.56" fill="#ff8000"/>
<polygon points="1282.29,2035.4 1286.89,2044.26 1298.14,2045.28 1289.74,2051.78 1292.08,2061.27 1282.29,2056.42 1272.5,2061.27 1274.85,2051.78 1266.45,2045.28 1277.69,2044.26" fill="#ff8000"/>
<polygon points="1303.68,2020.4 1308.28,2029.26 1319.52,2030.28 1311.13,2036.78 1313.47,2046.27 1303.68,2041.42 1293.89,2046.27 1296.23,2036.78 1287.83,2030.28 1299.08,2029.26" fill="#ff8000"/>
<polygon points="1337.42,1974.1 1342.03,1982.96 1353.27,1983.98 1344.87,1990.48 1347.22,1999.97 1337.42,1995.12 1327.63,1999.97 1329.98,1990.48 1321.58,1983.98 1332.82,1982.96" fill="#ff8000"/>
<polygon points="1363.6,1922.4 1368.2,1931.26 1379.44,1932.28 1371.05,1938.78 1373.39,1948.27 1363.6,1943.42 1353.81,1948.27 1356.15,1938.78 1347.76,1932.28 1359,1931.26" fill="#ff8000"/>
<polygon points="1411.16,1763 1415.76,1771.86 1427.01,1772.88 1418.61,1779.38 1420.95,1788.87 1411.16,1784.02 1401.37,1788.87 1403.72,1779.38 1395.32,1772.88 1406.56,1771.86" fill="#ff8000"/>
</g>
<path d="M553.3,1712.4V2336.8M540.23,2336.8H1426.8M540.23,2336.8H553.3M546.55,2289.81H553.3M546.55,2262.32H553.3M546.55,2242.82H553.3M546.55,2227.69H553.3M546.55,2215.33H553.3M546.55,2204.88H553.3M546.55,2195.83H553.3M546.55,2187.84H553.3M540.23,2180.7H553.3M546.55,2133.71H553.3M546.55,2106.22H553.3M546.55,2086.72H553.3M546.55,2071.59H553.3M546.55,2059.23H553.3M546.55,2048.78H553.3M546.55,2039.73H553.3M546.55,2031.74H553.3M540.23,2024.6H553.3M546.55,1977.61H553.3M546.55,1950.12H553.3M546.55,1930.62H553.3M546.55,1915.49H553.3M546.55,1903.13H553.3M546.55,1892.68H553.3M546.55,1883.63H553.3M546.55,1875.64H553.3M540.23,1868.5H553.3M546.55,1821.51H553.3M546.55,1794.02H553.3M546.55,1774.52H553.3M546.55,1759.39H553.3M546.55,1747.03H553.3M546.55,1736.58H553.3M546.55,1727.53H553.3M546.55,1719.54H553.3M540.23,1712.4H553.3M553.3,2336.8V2348.5M634.61,2336.8V2342.8M682.17,2336.8V2342.8M715.92,2336.8V2342.8M742.09,2336.8V2342.8M763.48,2336.8V2342.8M781.56,2336.8V2342.8M797.22,2336.8V2342.8M811.04,2336.8V2342.8M823.4,2336.8V2348.5M904.71,2336.8V2342.8M952.27,2336.8V2342.8M986.02,2336.8V2342.8M1012.19,2336.8V2342.8M1033.58,2336.8V2342.8M1051.66,2336.8V2342.8M1067.32,2336.8V2342.8M1081.14,2336.8V2342.8M1093.5,2336.8V2348.5M1174.81,2336.8V2342.8M1222.37,2336.8V2342.8M1256.12,2336.8V2342.8M1282.29,2336.8V2342.8M1303.68,2336.8V2342.8M1321.76,2336.8V2342.8M1337.42,2336.8V2342.8M1351.24,2336.8V2342.8M1363.6,2336.8V2348.5" stroke="#000" stroke-width="2.5" fill="none"/>
<text transform="translate(486.15,2346.7) scale(1.1650,1)" font-family='"Liberation Sans", Arial, sans-serif' font-weight="bold" font-size="26">10</text>
<text transform="translate(519.44,2334.9) scale(1.1650,1)" font-family='"Liberation Sans", Arial, sans-serif' font-weight="bold" font-size="16.5">0</text>
<text transform="translate(486.15,2190.6) scale(1.1650,1)" font-family='"Liberation Sans", Arial, sans-serif' font-weight="bold" font-size="26">10</text>
<text transform="translate(519,2178.8) scale(1.1650,1)" font-family='"Liberation Sans", Arial, sans-serif' font-weight="bold" font-size="16.5">1</text>
<text transform="translate(486.15,2034.5) scale(1.1650,1)" font-family='"Liberation Sans", Arial, sans-serif' font-weight="bold" font-size="26">10</text>
<text transform="translate(519.54,2022.7) scale(1.1650,1)" font-family='"Liberation Sans", Arial, sans-serif' font-weight="bold" font-size="16.5">2</text>
<text transform="translate(486.15,1878.4) scale(1.1650,1)" font-family='"Liberation Sans", Arial, sans-serif' font-weight="bold" font-size="26">10</text>
<text transform="translate(519.77,1866.6) scale(1.1650,1)" font-family='"Liberation Sans", Arial, sans-serif' font-weight="bold" font-size="16.5">3</text>
<text transform="translate(486.15,1722.3) scale(1.1650,1)" font-family='"Liberation Sans", Arial, sans-serif' font-weight="bold" font-size="26">10</text>
<text transform="translate(519.93,1710.5) scale(1.1650,1)" font-family='"Liberation Sans", Arial, sans-serif' font-weight="bold" font-size="16.5">4</text>
<text transform="translate(525.7,2377.8) scale(1.1650,1)" font-family='"Liberation Sans", Arial, sans-serif' font-weight="bold" font-size="24.2">0.01</text>
<text transform="translate(803.64,2377.8) scale(1.1650,1)" font-family='"Liberation Sans", Arial, sans-serif' font-weight="bold" font-size="24.2">0.1</text>
<text transform="translate(1085.17,2377.8) scale(1.1650,1)" font-family='"Liberation Sans", Arial, sans-serif' font-weight="bold" font-size="24.2">1</text>
<text transform="translate(1347.61,2377.8) scale(1.1650,1)" font-family='"Liberation Sans", Arial, sans-serif' font-weight="bold" font-size="24.2">10</text>
<text transform="translate(807.4,2431.2) scale(1.1650,1)" font-family='"Liberation Sans", Arial, sans-serif' font-weight="bold" font-size="31.3">Photon energy (MeV)</text>
<text transform="translate(470.4,2056.37) scale(1.1650,1) rotate(-90)" font-family='"Liberation Sans", Arial, sans-serif' font-weight="bold" font-size="31.3">EBF</text>
<text transform="translate(571.96,1741.8) scale(1.1650,1)" font-family='"Liberation Sans", Arial, sans-serif' font-weight="bold" font-size="25">4.5Pb</text>
<text transform="translate(1217.79,1778.6) scale(1.1650,1)" font-family='"Liberation Sans", Arial, sans-serif' font-weight="bold" font-size="25.65">PD (mfp)</text>
<path d="M1218.63,1803.1H1284.57" stroke="#000" stroke-width="2.8"/>
<rect x="1241.23" y="1794.2" width="20.74" height="17.8" fill="#ff0000"/>
<text transform="translate(1293.31,1812.1) scale(1.1650,1)" font-family='"Liberation Sans", Arial, sans-serif' font-weight="bold" font-size="25">0.5</text>
<path d="M1218.63,1836.6H1284.57" stroke="#000" stroke-width="2.8"/>
<ellipse cx="1251.6" cy="1836.6" rx="11.48" ry="9.85" fill="#00ff00"/>
<text transform="translate(1293.57,1845.6) scale(1.1650,1)" font-family='"Liberation Sans", Arial, sans-serif' font-weight="bold" font-size="25">5</text>
<path d="M1218.63,1870.4H1284.57" stroke="#000" stroke-width="2.8"/>
<polygon points="1251.6,1856.87 1265.23,1877.17 1237.97,1877.17" fill="#0000ff"/>
<text transform="translate(1292.64,1879.4) scale(1.1650,1)" font-family='"Liberation Sans", Arial, sans-serif' font-weight="bold" font-size="25">10</text>
<path d="M1218.63,1903.9H1284.57" stroke="#000" stroke-width="2.8"/>
<polygon points="1251.6,1891.5 1266.05,1903.9 1251.6,1916.3 1237.15,1903.9" fill="#ff00ff"/>
<text transform="translate(1293.45,1912.9) scale(1.1650,1)" font-family='"Liberation Sans", Arial, sans-serif' font-weight="bold" font-size="25">20</text>
<path d="M1218.63,1937.4H1284.57" stroke="#000" stroke-width="2.8"/>
<polygon points="1251.6,1923.1 1256.2,1931.96 1267.44,1932.98 1259.05,1939.48 1261.39,1948.97 1251.6,1944.12 1241.81,1948.97 1244.15,1939.48 1235.76,1932.98 1247,1931.96" fill="#ff8000"/>
<text transform="translate(1294.04,1946.4) scale(1.1650,1)" font-family='"Liberation Sans", Arial, sans-serif' font-weight="bold" font-size="25">40</text>
<text transform="translate(1251.89,1979.4) scale(1.1650,1)" font-family='"Liberation Sans", Arial, sans-serif' font-weight="bold" font-size="25">(e)</text>
<text transform="translate(909.22,2486.9) scale(1.0500,1)" font-family='"Liberation Serif", serif' font-weight="normal" font-size="42">(e)</text>
</g>
</svg></body></html>
